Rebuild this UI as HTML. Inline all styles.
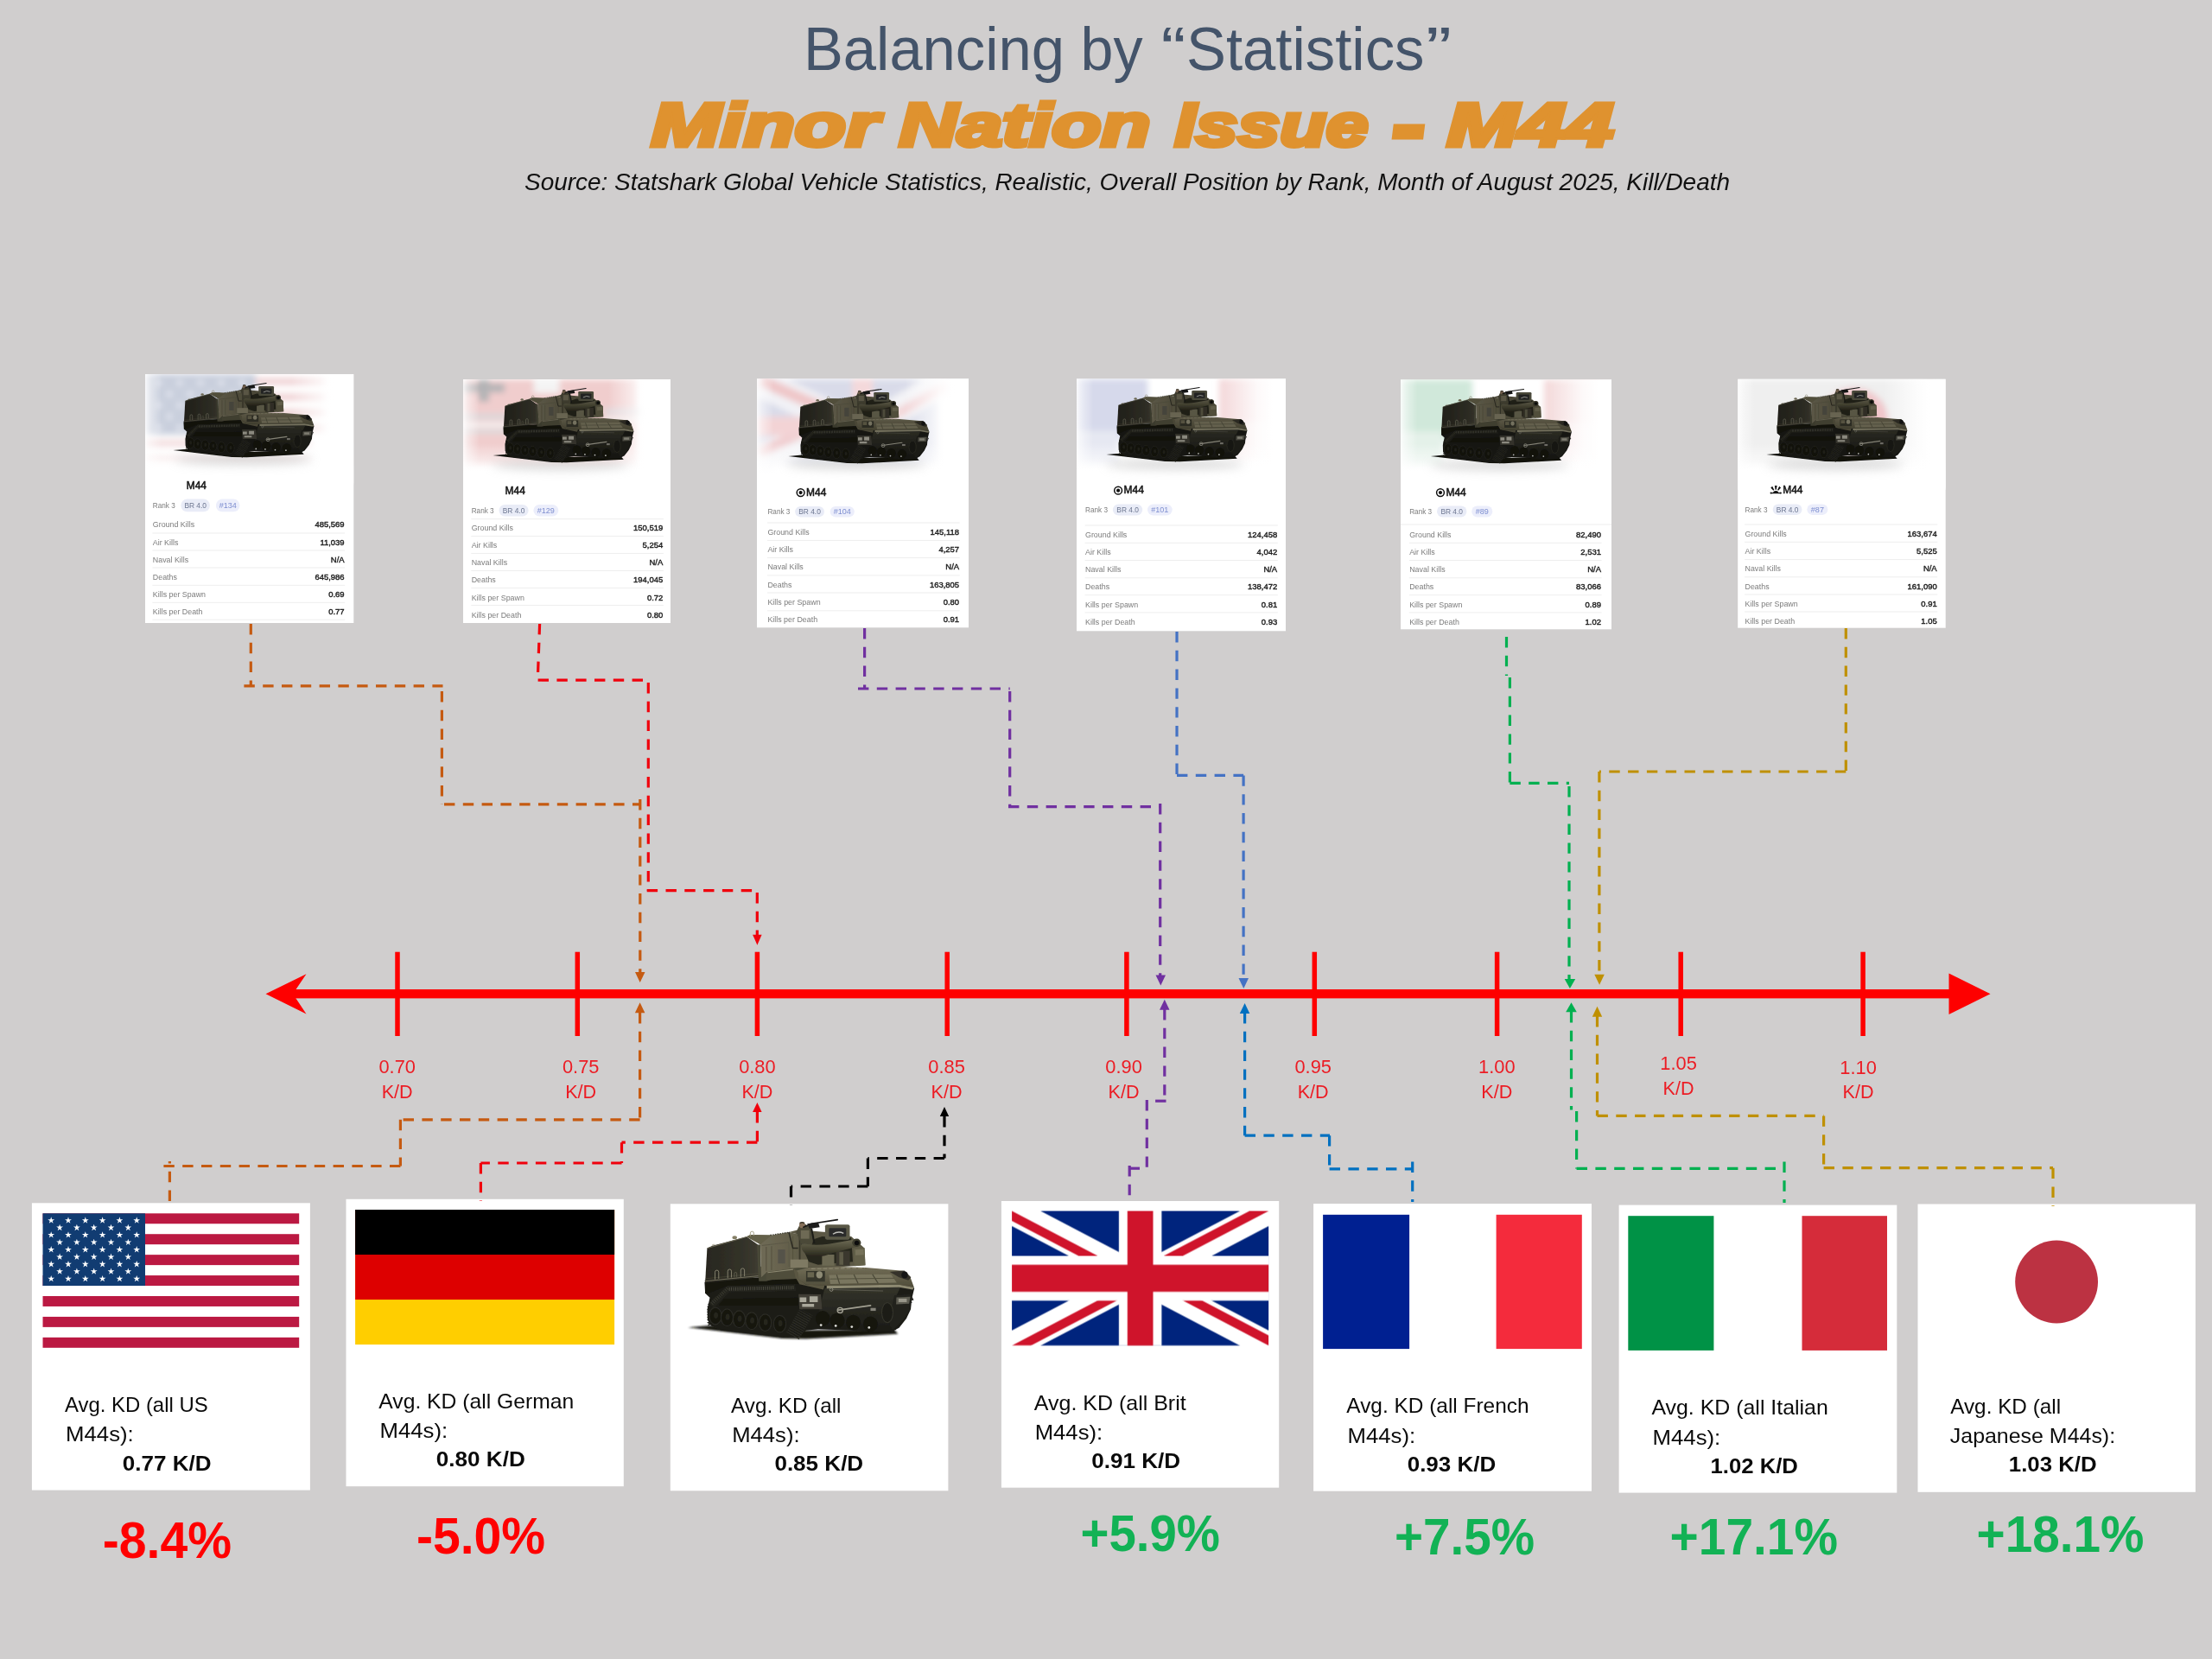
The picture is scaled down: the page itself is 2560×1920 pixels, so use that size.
<!DOCTYPE html>
<html lang="en"><head><meta charset="utf-8"><title>Balancing by Statistics - M44</title>
<style>
html,body{margin:0;padding:0;background:#d0cece;}
body{width:2560px;height:1920px;overflow:hidden;}
svg{display:block;}
text{font-family:'Liberation Sans',sans-serif;}
svg{will-change:transform;}
</style></head><body>
<svg width="2560" height="1920" viewBox="0 0 2560 1920">

<rect width="2560" height="1920" fill="#d0cece"/>
<defs>
<filter id="b1" x="-10%" y="-30%" width="120%" height="160%"><feGaussianBlur stdDeviation="7"/></filter>
<filter id="b3" x="-5%" y="-5%" width="110%" height="110%"><feGaussianBlur stdDeviation="2.6"/></filter>
<filter id="bf" x="-30%" y="-30%" width="160%" height="160%"><feGaussianBlur stdDeviation="7"/></filter>
<filter id="bf2" x="-10%" y="-10%" width="120%" height="120%"><feGaussianBlur stdDeviation="3.5"/></filter>
<filter id="dk" x="0" y="0" width="100%" height="100%" color-interpolation-filters="sRGB"><feComponentTransfer><feFuncR type="linear" slope="0.82"/><feFuncG type="linear" slope="0.82"/><feFuncB type="linear" slope="0.82"/></feComponentTransfer></filter>
<linearGradient id="vgR" x1="0" y1="0" x2="1" y2="0"><stop offset="0" stop-color="#fff" stop-opacity="0"/><stop offset="0.55" stop-color="#fff" stop-opacity="0.85"/><stop offset="0.8" stop-color="#fff" stop-opacity="1"/></linearGradient>
<linearGradient id="vgB" x1="0" y1="0" x2="0" y2="1"><stop offset="0" stop-color="#fff" stop-opacity="0"/><stop offset="0.6" stop-color="#fff" stop-opacity="0.9"/><stop offset="0.8" stop-color="#fff" stop-opacity="1"/></linearGradient>
<linearGradient id="vgL" x1="0" y1="0" x2="1" y2="0"><stop offset="0" stop-color="#fff" stop-opacity="0.7"/><stop offset="1" stop-color="#fff" stop-opacity="0"/></linearGradient>
<filter id="bh" x="-30%" y="-400%" width="160%" height="900%"><feGaussianBlur stdDeviation="6"/></filter>
<filter id="bg" x="-30%" y="-30%" width="160%" height="160%"><feGaussianBlur stdDeviation="11"/></filter>
<linearGradient id="gSide" x1="0" y1="0" x2="1" y2="0"><stop offset="0" stop-color="#28271f"/><stop offset="0.7" stop-color="#333229"/><stop offset="1" stop-color="#3e3c31"/></linearGradient>
<linearGradient id="gFront" x1="0" y1="0" x2="1" y2="0"><stop offset="0" stop-color="#746f5a"/><stop offset="1" stop-color="#605c48"/></linearGradient>
<linearGradient id="gDeck" x1="0" y1="0" x2="0" y2="1"><stop offset="0" stop-color="#726d57"/><stop offset="1" stop-color="#4f4c39"/></linearGradient>
<linearGradient id="gBarrel" x1="0" y1="0" x2="0" y2="1"><stop offset="0" stop-color="#6f6c56"/><stop offset="0.55" stop-color="#4a4835"/><stop offset="1" stop-color="#26251c"/></linearGradient>
<linearGradient id="gLow" x1="0" y1="0" x2="0" y2="1"><stop offset="0" stop-color="#33332a"/><stop offset="1" stop-color="#1c1c17"/></linearGradient>
<g id="tank">
<path d="M170 1016 L335 1002 L900 1040 L1720 1030 L1752 1066 L1060 1103 L880 1100 Z" fill="#131311" filter="url(#b1)"/>
<g filter="url(#b3)">
<path d="M296 676 L1000 640 L1215 690 L1850 690 L1875 722 L1856 800 L1848 880 L1815 950 L1760 1020 L1700 1050 L1560 1050 L1400 1040 L1150 1030 L1060 1040 L1015 1082 L880 1090 L420 1040 L345 1006 L318 960 L316 880 L335 792 L300 760 Z" fill="#1d1d18"/>
<path d="M322 840 L340 850 L322 860 L340 870 L322 880 L340 890 L322 900 L340 910 L322 920 L340 930 L322 940 L340 950 L322 960 L340 970 L322 980 L340 990 L322 1000" fill="none" stroke="#1d1d18" stroke-width="9" stroke-linejoin="miter"/>
<path d="M1856 790 L1864 808 L1844 810 L1852 828 L1832 830 L1840 849 L1820 850 L1828 869 L1808 871 L1816 889 L1796 891 L1804 909 L1784 911 L1792 929 L1772 931 L1780 949 L1760 951 L1768 969 L1748 971 L1756 990 L1736 992 L1744 1010 L1724 1012 L1732 1030 L1712 1032 L1720 1050 L1700 1052" fill="none" stroke="#1d1d18" stroke-width="9"/>
<path d="M960 1080 L1062 900" fill="none" stroke="#2e2e27" stroke-width="110" stroke-dasharray="7 10"/>
<path d="M1200 722 L1770 712 L1730 800 L1700 1000 L1560 1040 L1400 1030 L1150 998 L1165 860 Z" fill="url(#gLow)"/>
<path d="M1725 775 L1850 770 L1840 880 L1790 960 L1715 1035 L1690 1000 L1700 880 Z" fill="#24241e"/>
<path d="M1740 790 L1845 785 L1835 838 L1738 842 Z" fill="#5d5c51"/>
<path d="M1756 800 h62 v26 h-62 z" fill="#9a988b"/>
<ellipse cx="1672" cy="905" rx="42" ry="75" fill="#1a1a15" stroke="#34342b" stroke-width="8"/>
<ellipse cx="377" cy="930" rx="46" ry="64" fill="#13130f" stroke="#2b2b24" stroke-width="8"/>
<ellipse cx="381" cy="926" rx="16" ry="24" fill="#25251e"/>
<ellipse cx="465" cy="942" rx="46" ry="64" fill="#13130f" stroke="#2b2b24" stroke-width="8"/>
<ellipse cx="469" cy="938" rx="16" ry="24" fill="#25251e"/>
<ellipse cx="556" cy="955" rx="46" ry="64" fill="#13130f" stroke="#2b2b24" stroke-width="8"/>
<ellipse cx="560" cy="951" rx="16" ry="24" fill="#25251e"/>
<ellipse cx="650" cy="968" rx="46" ry="64" fill="#13130f" stroke="#2b2b24" stroke-width="8"/>
<ellipse cx="654" cy="964" rx="16" ry="24" fill="#25251e"/>
<ellipse cx="752" cy="980" rx="46" ry="64" fill="#13130f" stroke="#2b2b24" stroke-width="8"/>
<ellipse cx="756" cy="976" rx="16" ry="24" fill="#25251e"/>
<ellipse cx="862" cy="990" rx="46" ry="64" fill="#13130f" stroke="#2b2b24" stroke-width="8"/>
<ellipse cx="866" cy="986" rx="16" ry="24" fill="#25251e"/>
<ellipse cx="1185" cy="950" rx="55" ry="58" fill="#141410"/>
<ellipse cx="1295" cy="965" rx="55" ry="58" fill="#141410"/>
<ellipse cx="1415" cy="980" rx="55" ry="58" fill="#141410"/>
<ellipse cx="1545" cy="992" rx="55" ry="58" fill="#141410"/>
<path d="M440 800 L1000 790 L1000 850 L400 850 Z" fill="#16160f"/>
<path d="M330 830 L470 702 L975 690 L985 742 L480 752 L362 870 Z" fill="#24241d"/>
<path d="M480 728 L975 716" fill="none" stroke="#55544a" stroke-width="26" stroke-dasharray="5 11"/>
<path d="M350 838 L470 722" fill="none" stroke="#3c3c33" stroke-width="26" stroke-dasharray="5 11"/>
<path d="M298 660 L1000 625 L1005 690 L470 702 L330 760 L300 760 Z" fill="#14140f"/>
<path d="M700 560 L1012 540 L1320 548 L1320 610 L975 612 L760 668 L704 668 Z" fill="#4a4838"/>
<path d="M315 420 L355 402 L612 334 L700 395 L704 640 L300 682 Z" fill="url(#gSide)"/>
<path d="M300 668 L704 628" fill="none" stroke="#767360" stroke-width="6"/>
<path d="M300 650 L704 610" fill="none" stroke="#55533f" stroke-width="3"/>
<path d="M374 655 V600 q0 -14 14 -14 q14 0 14 14 V650" fill="none" stroke="#8a8772" stroke-width="6"/>
<path d="M470 646 V593 q0 -14 14 -14 q14 0 14 14 V641" fill="none" stroke="#8a8772" stroke-width="6"/>
<path d="M568 637 V586 q0 -14 14 -14 q14 0 14 14 V632" fill="none" stroke="#8a8772" stroke-width="6"/>
<path d="M520 640 v-30 q0 -8 9 -8 q9 0 9 8 v28" fill="none" stroke="#6a6854" stroke-width="5"/>
<path d="M315 421 L612 335" fill="none" stroke="#6a6752" stroke-width="6"/>
<path d="M690 396 L716 392 L722 640 L700 642 Z" fill="#4a4838"/>
<path d="M716 392 L612 334 L640 318 L800 322 L935 300 L1012 318 L1012 562 L960 574 L765 600 L722 640 Z" fill="url(#gFront)"/>
<path d="M612 334 L640 318 L800 322 L716 392 Z" fill="#646049"/>
<path d="M726 400 L930 376 L932 560" fill="none" stroke="#5a5745" stroke-width="6"/>
<path d="M848 430 h54 v105 h-54 z" fill="#55524a"/>
<path d="M760 410 V590 M800 405 V585 M960 330 V560" fill="none" stroke="#55523f" stroke-width="7"/>
<path d="M760 600 L965 572 L1000 600 L1005 650 L760 660 Z" fill="#504d3b"/>
<path d="M770 604 L962 580" fill="none" stroke="#8b8770" stroke-width="7"/>
<path d="M640 330 v-24 q0 -12 13 -12 q13 0 13 12 v20" fill="none" stroke="#a39e86" stroke-width="6"/>
<path d="M352 404 q0 -14 14 -12 q10 2 10 8" fill="none" stroke="#a39e86" stroke-width="5"/>
<ellipse cx="522" cy="340" rx="18" ry="13" fill="#857f66"/>
<path d="M790 322 L935 300" fill="none" stroke="#3f3e31" stroke-width="9" stroke-dasharray="10 8"/>
<path d="M930 300 L1000 282 L1210 300 L1400 332 L1500 420 L1506 548 L1300 562 L1012 562 L1012 318 Z" fill="#5c5945"/>
<path d="M1012 318 L1012 562" fill="none" stroke="#38372b" stroke-width="12"/>
<path d="M942 505 h132 v62 h-132 z" fill="#7f7a64"/>
<path d="M1020 385 L1180 332 L1400 342 L1412 522 L1150 545 L1080 522 Z" fill="#26261d"/>
<path d="M1418 424 L1500 418 L1506 548 L1424 554 Z" fill="#636049"/>
<path d="M1430 432 L1492 428 L1496 470 L1432 474 Z" fill="#76725a"/>
<path d="M1285 440 h105 v112 h-105 z" fill="#3a392d"/>
<path d="M1310 450 h30 v95 h-30 z" fill="#5f5c48"/>
<path d="M1180 468 h92 v84 h-92 z" fill="#6c6953"/>
<rect x="1203" y="242" width="186" height="114" rx="14" fill="#5a5947"/>
<rect x="1232" y="268" width="130" height="66" rx="8" fill="#2b2c2a"/>
<path d="M1262 314 q40 -26 80 -6" fill="none" stroke="#c3c3be" stroke-width="9"/>
<path d="M985 300 L1008 252 L1050 238 L1092 262 L1122 330 L1102 402 L1030 402 Z" fill="#4b4939"/>
<rect x="1020" y="285" width="64" height="64" fill="#6e6a54"/>
<ellipse cx="1030" cy="247" rx="22" ry="22" fill="#86705a"/>
<path d="M1012 232 q18 -12 36 0" fill="none" stroke="#3a3428" stroke-width="10"/>
<path d="M1040 262 L1100 236 L1296 206" fill="none" stroke="#191917" stroke-width="11" stroke-linecap="round"/>
<path d="M1068 236 L1152 226 L1162 262 L1086 274 Z" fill="#1f1f1d"/>
<path d="M1100 270 L1122 384" fill="none" stroke="#1d1d19" stroke-width="13"/>
<path d="M930 300 L960 420 L1000 420" fill="none" stroke="#2c2b22" stroke-width="10"/>
<path d="M1022 405 Q1028 458 1090 480 Q1180 494 1262 456 L1464 404 L1452 350 L1230 388 Q1130 402 1060 388 Q1018 384 1022 405 Z" fill="url(#gBarrel)"/>
<ellipse cx="1440" cy="379" rx="33" ry="31" fill="#3d3c2e"/>
<ellipse cx="1442" cy="380" rx="18" ry="18" fill="#0f0f0c"/>
<path d="M975 592 L1080 566 L1300 560 L1510 566 L1790 590 L1845 640 L1873 716 L1760 694 L1215 702 L1060 694 L1000 654 Z" fill="url(#gDeck)"/>
<path d="M1232 622 L1700 616 L1742 680 L1242 690 Z" fill="#7a765f"/>
<path d="M1290 620 L1312 688 M1420 618 L1452 686 M1560 617 L1602 684" stroke="#4c4a39" stroke-width="8" fill="none"/>
<path d="M1240 652 L1725 646" stroke="#504e3c" stroke-width="6" fill="none"/>
<path d="M1100 575 L1500 570" stroke="#8c8870" stroke-width="7" fill="none" stroke-dasharray="30 14"/>
<path d="M965 572 L1000 600 L1005 654 L1060 694 L1200 700 L1190 732 L1010 692 L980 640 Z" fill="#5a5742"/>
<path d="M1060 592 h142 v80 h-142 z" fill="#35342a"/>
<ellipse cx="1160" cy="620" rx="24" ry="27" fill="#8e8b74"/>
<path d="M1070 600 h50 v40 h-50 z" fill="#68654f"/>
<path d="M1690 598 L1800 588 L1850 640 L1830 662 L1760 640 Z" fill="#34332a"/>
<ellipse cx="1802" cy="622" rx="24" ry="26" fill="#191915"/>
<path d="M1215 702 L1760 694 L1873 716 L1862 732 L1760 714 L1215 724 Z" fill="#8e8a72"/>
<path d="M1003 766 L1172 768 L1180 880 L1010 880 Z" fill="#3f3e35"/>
<path d="M1012 790 h50 v36 h-50 z M1086 782 h62 v44 h-62 z M1030 840 h90 v22 h-90 z" fill="#aaa89b"/>
<path d="M1305 886 L1545 852" fill="none" stroke="#a19f91" stroke-width="12" stroke-linecap="round"/>
<circle cx="1316" cy="888" r="20" fill="none" stroke="#a19f91" stroke-width="9"/>
<path d="M1250 732 L1640 742" fill="none" stroke="#5f5e51" stroke-width="6"/>
<circle cx="1250" cy="732" r="12" fill="none" stroke="#8f8d7e" stroke-width="6"/>
<path d="M1545 870 h40 v22 h-40 z" fill="#85837a"/>
<circle cx="1172" cy="999" r="9" fill="#deded8"/>
<circle cx="1283" cy="1005" r="9" fill="#deded8"/>
<circle cx="1404" cy="1012" r="9" fill="#deded8"/>
<circle cx="1534" cy="1018" r="9" fill="#deded8"/>
</g>
</g>
</defs>
<g id="header">
<text x="930.0" y="81.4" font-size="70" fill="#44546a" textLength="302.0" lengthAdjust="spacingAndGlyphs">Balancing</text>
<text x="1250.5" y="81.4" font-size="70" fill="#44546a" textLength="72.0" lengthAdjust="spacingAndGlyphs">by</text>
<text x="1343.5" y="81.4" font-size="70" fill="#44546a" textLength="29.0" lengthAdjust="spacingAndGlyphs">“</text>
<text x="1373.0" y="81.4" font-size="70" fill="#44546a" textLength="275.5" lengthAdjust="spacingAndGlyphs">Statistics</text>
<text x="1650.0" y="81.4" font-size="70" fill="#44546a" textLength="30.0" lengthAdjust="spacingAndGlyphs">”</text>
<text x="753.5" y="169.0" font-size="69.5" fill="#df922f" font-weight="bold" font-style="italic" textLength="263.0" lengthAdjust="spacingAndGlyphs" stroke="#df922f" stroke-width="5" stroke-linejoin="miter" stroke-miterlimit="3" paint-order="stroke">Minor</text>
<text x="1040.5" y="169.0" font-size="69.5" fill="#df922f" font-weight="bold" font-style="italic" textLength="291.0" lengthAdjust="spacingAndGlyphs" stroke="#df922f" stroke-width="5" stroke-linejoin="miter" stroke-miterlimit="3" paint-order="stroke">Nation</text>
<text x="1359.5" y="169.0" font-size="69.5" fill="#df922f" font-weight="bold" font-style="italic" textLength="224.0" lengthAdjust="spacingAndGlyphs" stroke="#df922f" stroke-width="5" stroke-linejoin="miter" stroke-miterlimit="3" paint-order="stroke">Issue</text>
<text x="1614.5" y="171.4" font-size="69.5" fill="#df922f" font-weight="bold" font-style="italic" textLength="31.0" lengthAdjust="spacingAndGlyphs" stroke="#df922f" stroke-width="11" stroke-linejoin="miter" stroke-miterlimit="3" paint-order="stroke">–</text>
<text x="1674.5" y="169.0" font-size="69.5" fill="#df922f" font-weight="bold" font-style="italic" textLength="193.0" lengthAdjust="spacingAndGlyphs" stroke="#df922f" stroke-width="5" stroke-linejoin="miter" stroke-miterlimit="3" paint-order="stroke">M44</text>
<text x="607.0" y="220.0" font-size="28.5" fill="#111" font-style="italic" textLength="1395.0" lengthAdjust="spacingAndGlyphs">Source: Statshark Global Vehicle Statistics, Realistic, Overall Position by Rank, Month of August 2025, Kill/Death</text>
</g>
<g id="statcards">
<g>
<rect x="168" y="433" width="241.3" height="288" fill="#fff"/>
<clipPath id="ccus"><rect x="168" y="433" width="241.3" height="288"/></clipPath>
<g clip-path="url(#ccus)">
<g filter="url(#bf2)">
<rect x="168.0" y="433.0" width="127.9" height="70.0" fill="#c9cfdd" />
<rect x="295.9" y="437.0" width="82.0" height="9.0" fill="#f1d6d8" />
<rect x="295.9" y="455.0" width="82.0" height="9.0" fill="#f1d6d8" />
<rect x="295.9" y="473.0" width="82.0" height="9.0" fill="#f1d6d8" />
<rect x="295.9" y="491.0" width="82.0" height="9.0" fill="#f1d6d8" />
<rect x="168.0" y="509.0" width="193.0" height="9.0" fill="#f3dcdd" />
<rect x="168.0" y="527.0" width="193.0" height="9.0" fill="#f3dcdd" />
<path d="M184.00,438.00 L185.12,441.45 L188.76,441.45 L185.82,443.59 L186.94,447.05 L184.00,444.91 L181.06,447.05 L182.18,443.59 L179.24,441.45 L182.88,441.45ZM208.00,438.00 L209.12,441.45 L212.76,441.45 L209.82,443.59 L210.94,447.05 L208.00,444.91 L205.06,447.05 L206.18,443.59 L203.24,441.45 L206.88,441.45ZM232.00,438.00 L233.12,441.45 L236.76,441.45 L233.82,443.59 L234.94,447.05 L232.00,444.91 L229.06,447.05 L230.18,443.59 L227.24,441.45 L230.88,441.45ZM256.00,438.00 L257.12,441.45 L260.76,441.45 L257.82,443.59 L258.94,447.05 L256.00,444.91 L253.06,447.05 L254.18,443.59 L251.24,441.45 L254.88,441.45ZM280.00,438.00 L281.12,441.45 L284.76,441.45 L281.82,443.59 L282.94,447.05 L280.00,444.91 L277.06,447.05 L278.18,443.59 L275.24,441.45 L278.88,441.45ZM196.00,451.00 L197.12,454.45 L200.76,454.45 L197.82,456.59 L198.94,460.05 L196.00,457.91 L193.06,460.05 L194.18,456.59 L191.24,454.45 L194.88,454.45ZM220.00,451.00 L221.12,454.45 L224.76,454.45 L221.82,456.59 L222.94,460.05 L220.00,457.91 L217.06,460.05 L218.18,456.59 L215.24,454.45 L218.88,454.45ZM244.00,451.00 L245.12,454.45 L248.76,454.45 L245.82,456.59 L246.94,460.05 L244.00,457.91 L241.06,460.05 L242.18,456.59 L239.24,454.45 L242.88,454.45ZM268.00,451.00 L269.12,454.45 L272.76,454.45 L269.82,456.59 L270.94,460.05 L268.00,457.91 L265.06,460.05 L266.18,456.59 L263.24,454.45 L266.88,454.45ZM292.00,451.00 L293.12,454.45 L296.76,454.45 L293.82,456.59 L294.94,460.05 L292.00,457.91 L289.06,460.05 L290.18,456.59 L287.24,454.45 L290.88,454.45ZM184.00,464.00 L185.12,467.45 L188.76,467.45 L185.82,469.59 L186.94,473.05 L184.00,470.91 L181.06,473.05 L182.18,469.59 L179.24,467.45 L182.88,467.45ZM208.00,464.00 L209.12,467.45 L212.76,467.45 L209.82,469.59 L210.94,473.05 L208.00,470.91 L205.06,473.05 L206.18,469.59 L203.24,467.45 L206.88,467.45ZM232.00,464.00 L233.12,467.45 L236.76,467.45 L233.82,469.59 L234.94,473.05 L232.00,470.91 L229.06,473.05 L230.18,469.59 L227.24,467.45 L230.88,467.45ZM256.00,464.00 L257.12,467.45 L260.76,467.45 L257.82,469.59 L258.94,473.05 L256.00,470.91 L253.06,473.05 L254.18,469.59 L251.24,467.45 L254.88,467.45ZM280.00,464.00 L281.12,467.45 L284.76,467.45 L281.82,469.59 L282.94,473.05 L280.00,470.91 L277.06,473.05 L278.18,469.59 L275.24,467.45 L278.88,467.45ZM196.00,477.00 L197.12,480.45 L200.76,480.45 L197.82,482.59 L198.94,486.05 L196.00,483.91 L193.06,486.05 L194.18,482.59 L191.24,480.45 L194.88,480.45ZM220.00,477.00 L221.12,480.45 L224.76,480.45 L221.82,482.59 L222.94,486.05 L220.00,483.91 L217.06,486.05 L218.18,482.59 L215.24,480.45 L218.88,480.45ZM244.00,477.00 L245.12,480.45 L248.76,480.45 L245.82,482.59 L246.94,486.05 L244.00,483.91 L241.06,486.05 L242.18,482.59 L239.24,480.45 L242.88,480.45ZM268.00,477.00 L269.12,480.45 L272.76,480.45 L269.82,482.59 L270.94,486.05 L268.00,483.91 L265.06,486.05 L266.18,482.59 L263.24,480.45 L266.88,480.45ZM292.00,477.00 L293.12,480.45 L296.76,480.45 L293.82,482.59 L294.94,486.05 L292.00,483.91 L289.06,486.05 L290.18,482.59 L287.24,480.45 L290.88,480.45ZM184.00,490.00 L185.12,493.45 L188.76,493.45 L185.82,495.59 L186.94,499.05 L184.00,496.91 L181.06,499.05 L182.18,495.59 L179.24,493.45 L182.88,493.45ZM208.00,490.00 L209.12,493.45 L212.76,493.45 L209.82,495.59 L210.94,499.05 L208.00,496.91 L205.06,499.05 L206.18,495.59 L203.24,493.45 L206.88,493.45ZM232.00,490.00 L233.12,493.45 L236.76,493.45 L233.82,495.59 L234.94,499.05 L232.00,496.91 L229.06,499.05 L230.18,495.59 L227.24,493.45 L230.88,493.45ZM256.00,490.00 L257.12,493.45 L260.76,493.45 L257.82,495.59 L258.94,499.05 L256.00,496.91 L253.06,499.05 L254.18,495.59 L251.24,493.45 L254.88,493.45ZM280.00,490.00 L281.12,493.45 L284.76,493.45 L281.82,495.59 L282.94,499.05 L280.00,496.91 L277.06,499.05 L278.18,495.59 L275.24,493.45 L278.88,493.45Z" fill="#eef0f6"/>
</g>
<rect x="336.9" y="433" width="72.4" height="126.0" fill="url(#vgR)"/>
<rect x="168" y="507" width="241.3" height="54.0" fill="url(#vgB)"/>
<rect x="168" y="433" width="19.3" height="118.0" fill="url(#vgL)"/>
<ellipse cx="281.4" cy="532" rx="79.6" ry="6" fill="#b5b5b5" opacity="0.5" filter="url(#bh)"/>
</g>
<use href="#tank" transform="translate(184.25,423.88) scale(0.0956)" filter="url(#dk)"/>
<text x="215.8" y="566.0" font-size="12.0" fill="#151515" textLength="23.2" lengthAdjust="spacingAndGlyphs" stroke="#151515" stroke-width="0.55">M44</text>
<text x="176.8" y="588.4" font-size="9.7" fill="#7b7b7b" textLength="26.0" lengthAdjust="spacingAndGlyphs">Rank 3</text>
<rect x="209.4" y="577.6" width="33.5" height="14.7" rx="7.3" fill="#e9ecf7"/>
<rect x="249.9" y="577.6" width="27.6" height="14.7" rx="7.3" fill="#eceefb"/>
<text x="226.2" y="588.4" font-size="9.7" fill="#6c7690" text-anchor="middle" textLength="25.6" lengthAdjust="spacingAndGlyphs">BR 4.0</text>
<text x="263.7" y="588.4" font-size="9.7" fill="#7f8fd0" text-anchor="middle" textLength="20.1" lengthAdjust="spacingAndGlyphs">#134</text>
<text x="176.8" y="609.9" font-size="9.7" fill="#7b7b7b" textLength="48.3" lengthAdjust="spacingAndGlyphs">Ground Kills</text>
<text x="398.6" y="609.9" font-size="9.7" fill="#1e1e1e" text-anchor="end" textLength="34.2" lengthAdjust="spacingAndGlyphs" stroke="#1e1e1e" stroke-width="0.42">485,569</text>
<text x="176.8" y="630.5" font-size="9.7" fill="#7b7b7b" textLength="29.6" lengthAdjust="spacingAndGlyphs">Air Kills</text>
<text x="398.6" y="630.5" font-size="9.7" fill="#1e1e1e" text-anchor="end" textLength="28.2" lengthAdjust="spacingAndGlyphs" stroke="#1e1e1e" stroke-width="0.42">11,039</text>
<text x="176.8" y="650.5" font-size="9.7" fill="#7b7b7b" textLength="41.4" lengthAdjust="spacingAndGlyphs">Naval Kills</text>
<text x="398.6" y="650.5" font-size="9.7" fill="#1e1e1e" text-anchor="end" textLength="15.8" lengthAdjust="spacingAndGlyphs" stroke="#1e1e1e" stroke-width="0.42">N/A</text>
<text x="176.8" y="670.8" font-size="9.7" fill="#7b7b7b" textLength="28.1" lengthAdjust="spacingAndGlyphs">Deaths</text>
<text x="398.6" y="670.8" font-size="9.7" fill="#1e1e1e" text-anchor="end" textLength="34.2" lengthAdjust="spacingAndGlyphs" stroke="#1e1e1e" stroke-width="0.42">645,986</text>
<text x="176.8" y="690.8" font-size="9.7" fill="#7b7b7b" textLength="61.2" lengthAdjust="spacingAndGlyphs">Kills per Spawn</text>
<text x="398.6" y="690.8" font-size="9.7" fill="#1e1e1e" text-anchor="end" textLength="18.4" lengthAdjust="spacingAndGlyphs" stroke="#1e1e1e" stroke-width="0.42">0.69</text>
<text x="176.8" y="711.0" font-size="9.7" fill="#7b7b7b" textLength="57.7" lengthAdjust="spacingAndGlyphs">Kills per Death</text>
<text x="398.6" y="711.0" font-size="9.7" fill="#1e1e1e" text-anchor="end" textLength="18.4" lengthAdjust="spacingAndGlyphs" stroke="#1e1e1e" stroke-width="0.42">0.77</text>
<rect x="176.4" y="616.5" width="222.8" height="1" fill="#eeeeee"/>
<rect x="176.4" y="636.5" width="222.8" height="1" fill="#eeeeee"/>
<rect x="176.4" y="656.5" width="222.8" height="1" fill="#eeeeee"/>
<rect x="176.4" y="676.8" width="222.8" height="1" fill="#eeeeee"/>
<rect x="176.4" y="696.8" width="222.8" height="1" fill="#eeeeee"/>
<rect x="176.4" y="716.7" width="222.8" height="1" fill="#eeeeee"/>
</g>
<g>
<rect x="536" y="439" width="240" height="282" fill="#fff"/>
<clipPath id="ccde"><rect x="536" y="439" width="240" height="282"/></clipPath>
<g clip-path="url(#ccde)">
<g filter="url(#bf2)">
<rect x="536.0" y="439.0" width="201.6" height="100.0" fill="#f0cdcd" />
<rect x="536.0" y="444.0" width="48.0" height="10.0" fill="#b4b4b6" />
<rect x="554.0" y="439.0" width="12.0" height="26.0" fill="#b4b4b6" />
<rect x="617.6" y="439.0" width="30.0" height="16.0" fill="#f4f4f4" />
<rect x="536.0" y="479.0" width="60.0" height="6.0" fill="#d9d9dc" />
<rect x="536.0" y="489.0" width="60.0" height="5.0" fill="#f5f5f5" />
<rect x="536.0" y="497.0" width="60.0" height="5.0" fill="#dcdcde" />
<rect x="699.2" y="473.0" width="43.2" height="6.0" fill="#dddde0" />
<rect x="699.2" y="483.0" width="43.2" height="5.0" fill="#f3f3f3" />
</g>
<rect x="704.0" y="439" width="72.0" height="126.0" fill="url(#vgR)"/>
<rect x="536" y="513" width="240" height="54.0" fill="url(#vgB)"/>
<rect x="536" y="439" width="19.2" height="118.0" fill="url(#vgL)"/>
<ellipse cx="648.8" cy="538" rx="79.2" ry="6" fill="#b5b5b5" opacity="0.5" filter="url(#bh)"/>
</g>
<use href="#tank" transform="translate(554.25,429.88) scale(0.0956)" filter="url(#dk)"/>
<text x="584.6" y="572.2" font-size="12.0" fill="#151515" textLength="23.2" lengthAdjust="spacingAndGlyphs" stroke="#151515" stroke-width="0.55">M44</text>
<text x="545.7" y="594.1" font-size="9.7" fill="#7b7b7b" textLength="26.0" lengthAdjust="spacingAndGlyphs">Rank 3</text>
<rect x="577.5" y="583.9" width="34.1" height="13.5" rx="6.8" fill="#e9ecf7"/>
<rect x="617.4" y="583.9" width="28.9" height="13.5" rx="6.8" fill="#eceefb"/>
<text x="594.5" y="594.1" font-size="9.7" fill="#6c7690" text-anchor="middle" textLength="25.6" lengthAdjust="spacingAndGlyphs">BR 4.0</text>
<text x="631.8" y="594.1" font-size="9.7" fill="#7f8fd0" text-anchor="middle" textLength="20.1" lengthAdjust="spacingAndGlyphs">#129</text>
<text x="545.7" y="613.5" font-size="9.7" fill="#7b7b7b" textLength="48.3" lengthAdjust="spacingAndGlyphs">Ground Kills</text>
<text x="767.3" y="613.5" font-size="9.7" fill="#1e1e1e" text-anchor="end" textLength="34.2" lengthAdjust="spacingAndGlyphs" stroke="#1e1e1e" stroke-width="0.42">150,519</text>
<text x="545.7" y="633.7" font-size="9.7" fill="#7b7b7b" textLength="29.6" lengthAdjust="spacingAndGlyphs">Air Kills</text>
<text x="767.3" y="633.7" font-size="9.7" fill="#1e1e1e" text-anchor="end" textLength="23.7" lengthAdjust="spacingAndGlyphs" stroke="#1e1e1e" stroke-width="0.42">5,254</text>
<text x="545.7" y="654.0" font-size="9.7" fill="#7b7b7b" textLength="41.4" lengthAdjust="spacingAndGlyphs">Naval Kills</text>
<text x="767.3" y="654.0" font-size="9.7" fill="#1e1e1e" text-anchor="end" textLength="15.8" lengthAdjust="spacingAndGlyphs" stroke="#1e1e1e" stroke-width="0.42">N/A</text>
<text x="545.7" y="674.2" font-size="9.7" fill="#7b7b7b" textLength="28.1" lengthAdjust="spacingAndGlyphs">Deaths</text>
<text x="767.3" y="674.2" font-size="9.7" fill="#1e1e1e" text-anchor="end" textLength="34.2" lengthAdjust="spacingAndGlyphs" stroke="#1e1e1e" stroke-width="0.42">194,045</text>
<text x="545.7" y="694.5" font-size="9.7" fill="#7b7b7b" textLength="61.2" lengthAdjust="spacingAndGlyphs">Kills per Spawn</text>
<text x="767.3" y="694.5" font-size="9.7" fill="#1e1e1e" text-anchor="end" textLength="18.4" lengthAdjust="spacingAndGlyphs" stroke="#1e1e1e" stroke-width="0.42">0.72</text>
<text x="545.7" y="714.7" font-size="9.7" fill="#7b7b7b" textLength="57.7" lengthAdjust="spacingAndGlyphs">Kills per Death</text>
<text x="767.3" y="714.7" font-size="9.7" fill="#1e1e1e" text-anchor="end" textLength="18.4" lengthAdjust="spacingAndGlyphs" stroke="#1e1e1e" stroke-width="0.42">0.80</text>
<rect x="545.3" y="600.2" width="222.6" height="1" fill="#eeeeee"/>
<rect x="545.3" y="620.1" width="222.6" height="1" fill="#eeeeee"/>
<rect x="545.3" y="639.9" width="222.6" height="1" fill="#eeeeee"/>
<rect x="545.3" y="660.0" width="222.6" height="1" fill="#eeeeee"/>
<rect x="545.3" y="679.9" width="222.6" height="1" fill="#eeeeee"/>
<rect x="545.3" y="700.1" width="222.6" height="1" fill="#eeeeee"/>
</g>
<g>
<rect x="876" y="438.3" width="245" height="288" fill="#fff"/>
<clipPath id="ccuk"><rect x="876" y="438.3" width="245" height="288"/></clipPath>
<g clip-path="url(#ccuk)">
<g filter="url(#bf2)">
<rect x="876.0" y="438.3" width="210.7" height="100.0" fill="#d9dbe9" />
<path d="M876 440.3 L978.9 490.3" stroke="#f2f2f6" stroke-width="34"/>
<path d="M880 440.3 L974.0 482.3" stroke="#efc6c8" stroke-width="13"/>
<path d="M876 534.3 L964.2 490.3" stroke="#f4f4f7" stroke-width="34"/>
<path d="M878 524.3 L949.5 490.3" stroke="#f1cfd1" stroke-width="12"/>
<rect x="876.0" y="482.3" width="73.5" height="22.0" fill="#f3d3d5" />
<path d="M1096.5 440.3 L1010.8 490.3" stroke="#f4f4f7" stroke-width="30"/>
<path d="M1096.5 446.3 L1018.1 490.3" stroke="#f3d6d8" stroke-width="11"/>
<rect x="986.2" y="438.3" width="24.0" height="40.0" fill="#f4d9db" />
</g>
<rect x="1047.5" y="438.3" width="73.5" height="126.0" fill="url(#vgR)"/>
<rect x="876" y="512.3" width="245" height="54.0" fill="url(#vgB)"/>
<rect x="876" y="438.3" width="19.6" height="118.0" fill="url(#vgL)"/>
<ellipse cx="991.1" cy="537.3" rx="80.9" ry="6" fill="#b5b5b5" opacity="0.5" filter="url(#bh)"/>
</g>
<use href="#tank" transform="translate(896.25,430.78) scale(0.0956)" filter="url(#dk)"/>
<circle cx="926.6" cy="570.1" r="4.4" fill="none" stroke="#111" stroke-width="1.5"/><circle cx="926.6" cy="570.1" r="2.1" fill="#111"/>
<text x="933.1" y="573.6" font-size="12.0" fill="#151515" textLength="23.2" lengthAdjust="spacingAndGlyphs" stroke="#151515" stroke-width="0.55">M44</text>
<text x="888.4" y="595.4" font-size="9.7" fill="#7b7b7b" textLength="26.0" lengthAdjust="spacingAndGlyphs">Rank 3</text>
<rect x="920.2" y="585.9" width="33.7" height="12.5" rx="6.2" fill="#e9ecf7"/>
<rect x="960.7" y="585.9" width="28.1" height="12.5" rx="6.2" fill="#eceefb"/>
<text x="937.0" y="595.4" font-size="9.7" fill="#6c7690" text-anchor="middle" textLength="25.6" lengthAdjust="spacingAndGlyphs">BR 4.0</text>
<text x="974.8" y="595.4" font-size="9.7" fill="#7f8fd0" text-anchor="middle" textLength="20.1" lengthAdjust="spacingAndGlyphs">#104</text>
<text x="888.4" y="618.7" font-size="9.7" fill="#7b7b7b" textLength="48.3" lengthAdjust="spacingAndGlyphs">Ground Kills</text>
<text x="1110.1" y="618.7" font-size="9.7" fill="#1e1e1e" text-anchor="end" textLength="33.5" lengthAdjust="spacingAndGlyphs" stroke="#1e1e1e" stroke-width="0.42">145,118</text>
<text x="888.4" y="638.9" font-size="9.7" fill="#7b7b7b" textLength="29.6" lengthAdjust="spacingAndGlyphs">Air Kills</text>
<text x="1110.1" y="638.9" font-size="9.7" fill="#1e1e1e" text-anchor="end" textLength="23.7" lengthAdjust="spacingAndGlyphs" stroke="#1e1e1e" stroke-width="0.42">4,257</text>
<text x="888.4" y="659.2" font-size="9.7" fill="#7b7b7b" textLength="41.4" lengthAdjust="spacingAndGlyphs">Naval Kills</text>
<text x="1110.1" y="659.2" font-size="9.7" fill="#1e1e1e" text-anchor="end" textLength="15.8" lengthAdjust="spacingAndGlyphs" stroke="#1e1e1e" stroke-width="0.42">N/A</text>
<text x="888.4" y="679.5" font-size="9.7" fill="#7b7b7b" textLength="28.1" lengthAdjust="spacingAndGlyphs">Deaths</text>
<text x="1110.1" y="679.5" font-size="9.7" fill="#1e1e1e" text-anchor="end" textLength="34.2" lengthAdjust="spacingAndGlyphs" stroke="#1e1e1e" stroke-width="0.42">163,805</text>
<text x="888.4" y="699.7" font-size="9.7" fill="#7b7b7b" textLength="61.2" lengthAdjust="spacingAndGlyphs">Kills per Spawn</text>
<text x="1110.1" y="699.7" font-size="9.7" fill="#1e1e1e" text-anchor="end" textLength="18.4" lengthAdjust="spacingAndGlyphs" stroke="#1e1e1e" stroke-width="0.42">0.80</text>
<text x="888.4" y="719.9" font-size="9.7" fill="#7b7b7b" textLength="57.7" lengthAdjust="spacingAndGlyphs">Kills per Death</text>
<text x="1110.1" y="719.9" font-size="9.7" fill="#1e1e1e" text-anchor="end" textLength="18.4" lengthAdjust="spacingAndGlyphs" stroke="#1e1e1e" stroke-width="0.42">0.91</text>
<rect x="888.0" y="604.5" width="222.7" height="1" fill="#eeeeee"/>
<rect x="888.0" y="624.9" width="222.7" height="1" fill="#eeeeee"/>
<rect x="888.0" y="645.1" width="222.7" height="1" fill="#eeeeee"/>
<rect x="888.0" y="665.4" width="222.7" height="1" fill="#eeeeee"/>
<rect x="888.0" y="685.5" width="222.7" height="1" fill="#eeeeee"/>
<rect x="888.0" y="706.3" width="222.7" height="1" fill="#eeeeee"/>
</g>
<g>
<rect x="1246" y="438.3" width="242" height="292" fill="#fff"/>
<clipPath id="ccfr"><rect x="1246" y="438.3" width="242" height="292"/></clipPath>
<g clip-path="url(#ccfr)">
<g filter="url(#bf2)">
<rect x="1246.0" y="438.3" width="82.3" height="70.0" fill="#d6d9eb" />
<rect x="1246.0" y="498.3" width="48.4" height="40.0" fill="#e6e8f2" />
<rect x="1410.6" y="438.3" width="62.9" height="60.0" fill="#f4dadc" />
<rect x="1425.1" y="488.3" width="48.4" height="45.0" fill="#f8e8e9" />
</g>
<rect x="1415.4" y="438.3" width="72.6" height="126.0" fill="url(#vgR)"/>
<rect x="1246" y="512.3" width="242" height="54.0" fill="url(#vgB)"/>
<rect x="1246" y="438.3" width="19.4" height="118.0" fill="url(#vgL)"/>
<ellipse cx="1359.7" cy="537.3" rx="79.9" ry="6" fill="#b5b5b5" opacity="0.5" filter="url(#bh)"/>
</g>
<use href="#tank" transform="translate(1264.25,428.88) scale(0.0956)" filter="url(#dk)"/>
<circle cx="1294.1" cy="567.7" r="4.4" fill="none" stroke="#111" stroke-width="1.5"/><circle cx="1294.1" cy="567.7" r="2.1" fill="#111"/>
<text x="1300.6" y="571.2" font-size="12.0" fill="#151515" textLength="23.2" lengthAdjust="spacingAndGlyphs" stroke="#151515" stroke-width="0.55">M44</text>
<text x="1256.0" y="593.1" font-size="9.7" fill="#7b7b7b" textLength="26.0" lengthAdjust="spacingAndGlyphs">Rank 3</text>
<rect x="1287.9" y="583.5" width="34.3" height="13.0" rx="6.5" fill="#e9ecf7"/>
<rect x="1328" y="583.5" width="28.7" height="13.0" rx="6.5" fill="#eceefb"/>
<text x="1305.1" y="593.1" font-size="9.7" fill="#6c7690" text-anchor="middle" textLength="25.6" lengthAdjust="spacingAndGlyphs">BR 4.0</text>
<text x="1342.3" y="593.1" font-size="9.7" fill="#7f8fd0" text-anchor="middle" textLength="20.1" lengthAdjust="spacingAndGlyphs">#101</text>
<text x="1256.0" y="621.5" font-size="9.7" fill="#7b7b7b" textLength="48.3" lengthAdjust="spacingAndGlyphs">Ground Kills</text>
<text x="1478.2" y="621.5" font-size="9.7" fill="#1e1e1e" text-anchor="end" textLength="34.2" lengthAdjust="spacingAndGlyphs" stroke="#1e1e1e" stroke-width="0.42">124,458</text>
<text x="1256.0" y="641.8" font-size="9.7" fill="#7b7b7b" textLength="29.6" lengthAdjust="spacingAndGlyphs">Air Kills</text>
<text x="1478.2" y="641.8" font-size="9.7" fill="#1e1e1e" text-anchor="end" textLength="23.7" lengthAdjust="spacingAndGlyphs" stroke="#1e1e1e" stroke-width="0.42">4,042</text>
<text x="1256.0" y="662.1" font-size="9.7" fill="#7b7b7b" textLength="41.4" lengthAdjust="spacingAndGlyphs">Naval Kills</text>
<text x="1478.2" y="662.1" font-size="9.7" fill="#1e1e1e" text-anchor="end" textLength="15.8" lengthAdjust="spacingAndGlyphs" stroke="#1e1e1e" stroke-width="0.42">N/A</text>
<text x="1256.0" y="682.3" font-size="9.7" fill="#7b7b7b" textLength="28.1" lengthAdjust="spacingAndGlyphs">Deaths</text>
<text x="1478.2" y="682.3" font-size="9.7" fill="#1e1e1e" text-anchor="end" textLength="34.2" lengthAdjust="spacingAndGlyphs" stroke="#1e1e1e" stroke-width="0.42">138,472</text>
<text x="1256.0" y="702.5" font-size="9.7" fill="#7b7b7b" textLength="61.2" lengthAdjust="spacingAndGlyphs">Kills per Spawn</text>
<text x="1478.2" y="702.5" font-size="9.7" fill="#1e1e1e" text-anchor="end" textLength="18.4" lengthAdjust="spacingAndGlyphs" stroke="#1e1e1e" stroke-width="0.42">0.81</text>
<text x="1256.0" y="722.8" font-size="9.7" fill="#7b7b7b" textLength="57.7" lengthAdjust="spacingAndGlyphs">Kills per Death</text>
<text x="1478.2" y="722.8" font-size="9.7" fill="#1e1e1e" text-anchor="end" textLength="18.4" lengthAdjust="spacingAndGlyphs" stroke="#1e1e1e" stroke-width="0.42">0.93</text>
<rect x="1255.6" y="607.5" width="223.2" height="1" fill="#eeeeee"/>
<rect x="1255.6" y="627.8" width="223.2" height="1" fill="#eeeeee"/>
<rect x="1255.6" y="648.0" width="223.2" height="1" fill="#eeeeee"/>
<rect x="1255.6" y="668.3" width="223.2" height="1" fill="#eeeeee"/>
<rect x="1255.6" y="688.2" width="223.2" height="1" fill="#eeeeee"/>
<rect x="1255.6" y="708.4" width="223.2" height="1" fill="#eeeeee"/>
</g>
<g>
<rect x="1621" y="439.3" width="244" height="289" fill="#fff"/>
<clipPath id="ccit"><rect x="1621" y="439.3" width="244" height="289"/></clipPath>
<g clip-path="url(#ccit)">
<g filter="url(#bf2)">
<rect x="1621.0" y="439.3" width="83.0" height="70.0" fill="#d0e8da" />
<rect x="1621.0" y="499.3" width="48.8" height="40.0" fill="#e4f1e9" />
<rect x="1786.9" y="439.3" width="63.4" height="60.0" fill="#f4dbdc" />
<rect x="1801.6" y="489.3" width="48.8" height="45.0" fill="#f8e8e9" />
</g>
<rect x="1791.8" y="439.3" width="73.2" height="126.0" fill="url(#vgR)"/>
<rect x="1621" y="513.3" width="244" height="54.0" fill="url(#vgB)"/>
<rect x="1621" y="439.3" width="19.5" height="118.0" fill="url(#vgL)"/>
<ellipse cx="1735.7" cy="538.3" rx="80.5" ry="6" fill="#b5b5b5" opacity="0.5" filter="url(#bh)"/>
</g>
<use href="#tank" transform="translate(1639.65,430.78) scale(0.0956)" filter="url(#dk)"/>
<circle cx="1667.0" cy="570.1" r="4.4" fill="none" stroke="#111" stroke-width="1.5"/><circle cx="1667.0" cy="570.1" r="2.1" fill="#111"/>
<text x="1673.5" y="573.6" font-size="12.0" fill="#151515" textLength="23.2" lengthAdjust="spacingAndGlyphs" stroke="#151515" stroke-width="0.55">M44</text>
<text x="1631.2" y="595.0" font-size="9.7" fill="#7b7b7b" textLength="26.0" lengthAdjust="spacingAndGlyphs">Rank 3</text>
<rect x="1663" y="585.5" width="34.4" height="12.9" rx="6.4" fill="#e9ecf7"/>
<rect x="1703.2" y="585.5" width="24.1" height="12.9" rx="6.4" fill="#eceefb"/>
<text x="1680.2" y="595.0" font-size="9.7" fill="#6c7690" text-anchor="middle" textLength="25.6" lengthAdjust="spacingAndGlyphs">BR 4.0</text>
<text x="1715.2" y="595.0" font-size="9.7" fill="#7f8fd0" text-anchor="middle" textLength="15.1" lengthAdjust="spacingAndGlyphs">#89</text>
<text x="1631.2" y="621.5" font-size="9.7" fill="#7b7b7b" textLength="48.3" lengthAdjust="spacingAndGlyphs">Ground Kills</text>
<text x="1853.0" y="621.5" font-size="9.7" fill="#1e1e1e" text-anchor="end" textLength="28.9" lengthAdjust="spacingAndGlyphs" stroke="#1e1e1e" stroke-width="0.42">82,490</text>
<text x="1631.2" y="641.8" font-size="9.7" fill="#7b7b7b" textLength="29.6" lengthAdjust="spacingAndGlyphs">Air Kills</text>
<text x="1853.0" y="641.8" font-size="9.7" fill="#1e1e1e" text-anchor="end" textLength="23.7" lengthAdjust="spacingAndGlyphs" stroke="#1e1e1e" stroke-width="0.42">2,531</text>
<text x="1631.2" y="662.1" font-size="9.7" fill="#7b7b7b" textLength="41.4" lengthAdjust="spacingAndGlyphs">Naval Kills</text>
<text x="1853.0" y="662.1" font-size="9.7" fill="#1e1e1e" text-anchor="end" textLength="15.8" lengthAdjust="spacingAndGlyphs" stroke="#1e1e1e" stroke-width="0.42">N/A</text>
<text x="1631.2" y="682.3" font-size="9.7" fill="#7b7b7b" textLength="28.1" lengthAdjust="spacingAndGlyphs">Deaths</text>
<text x="1853.0" y="682.3" font-size="9.7" fill="#1e1e1e" text-anchor="end" textLength="28.9" lengthAdjust="spacingAndGlyphs" stroke="#1e1e1e" stroke-width="0.42">83,066</text>
<text x="1631.2" y="702.5" font-size="9.7" fill="#7b7b7b" textLength="61.2" lengthAdjust="spacingAndGlyphs">Kills per Spawn</text>
<text x="1853.0" y="702.5" font-size="9.7" fill="#1e1e1e" text-anchor="end" textLength="18.4" lengthAdjust="spacingAndGlyphs" stroke="#1e1e1e" stroke-width="0.42">0.89</text>
<text x="1631.2" y="722.8" font-size="9.7" fill="#7b7b7b" textLength="57.7" lengthAdjust="spacingAndGlyphs">Kills per Death</text>
<text x="1853.0" y="722.8" font-size="9.7" fill="#1e1e1e" text-anchor="end" textLength="18.4" lengthAdjust="spacingAndGlyphs" stroke="#1e1e1e" stroke-width="0.42">1.02</text>
<rect x="1621" y="606.5" width="244" height="1" fill="#eeeeee"/>
<rect x="1630.8" y="627.8" width="222.8" height="1" fill="#eeeeee"/>
<rect x="1630.8" y="648.0" width="222.8" height="1" fill="#eeeeee"/>
<rect x="1630.8" y="668.3" width="222.8" height="1" fill="#eeeeee"/>
<rect x="1630.8" y="688.2" width="222.8" height="1" fill="#eeeeee"/>
<rect x="1630.8" y="708.4" width="222.8" height="1" fill="#eeeeee"/>
</g>
<g>
<rect x="2011.2" y="438.7" width="240.5" height="288" fill="#fff"/>
<clipPath id="ccjp"><rect x="2011.2" y="438.7" width="240.5" height="288"/></clipPath>
<g clip-path="url(#ccjp)">
<g filter="url(#bf2)">
<rect x="2011.2" y="438.7" width="216.5" height="100.0" fill="#efefef" />
<circle cx="2145.9" cy="488.7" r="40" fill="#f0c6ca"/>
</g>
<rect x="2179.6" y="438.7" width="72.1" height="126.0" fill="url(#vgR)"/>
<rect x="2011.2" y="512.7" width="240.5" height="54.0" fill="url(#vgB)"/>
<rect x="2011.2" y="438.7" width="19.2" height="118.0" fill="url(#vgL)"/>
<ellipse cx="2124.2" cy="537.7" rx="79.4" ry="6" fill="#b5b5b5" opacity="0.5" filter="url(#bh)"/>
</g>
<use href="#tank" transform="translate(2028.15,428.88) scale(0.0956)" filter="url(#dk)"/>
<path d="M2049.4 570.7 H2061.0" stroke="#111" stroke-width="1.2" stroke-linecap="round" fill="none"/>
<circle cx="2049.6" cy="570.5" r="0.95" fill="#111"/><circle cx="2060.8" cy="570.5" r="0.95" fill="#111"/>
<path d="M2052.0 571.0 a3.2 3.0 0 0 1 6.4 0 z" fill="#111"/>
<path d="M2054.6 566.8 L2053.9 562.1 H2056.6 L2055.8 566.8 Z" fill="#111"/>
<path d="M2052.3 567.7 L2049.3 564.4 L2051.2 562.7 L2053.3 567.0 Z" fill="#111"/>
<path d="M2058.1 567.7 L2061.1 564.4 L2059.2 562.7 L2057.1 567.0 Z" fill="#111"/>
<text x="2063.3" y="571.2" font-size="12.0" fill="#151515" textLength="23.2" lengthAdjust="spacingAndGlyphs" stroke="#151515" stroke-width="0.55">M44</text>
<text x="2019.5" y="593.1" font-size="9.7" fill="#7b7b7b" textLength="26.0" lengthAdjust="spacingAndGlyphs">Rank 3</text>
<rect x="2051.7" y="583.5" width="33.8" height="12.4" rx="6.2" fill="#e9ecf7"/>
<rect x="2091.3" y="583.5" width="24.1" height="12.4" rx="6.2" fill="#eceefb"/>
<text x="2068.6" y="593.1" font-size="9.7" fill="#6c7690" text-anchor="middle" textLength="25.6" lengthAdjust="spacingAndGlyphs">BR 4.0</text>
<text x="2103.4" y="593.1" font-size="9.7" fill="#7f8fd0" text-anchor="middle" textLength="15.1" lengthAdjust="spacingAndGlyphs">#87</text>
<text x="2019.5" y="620.8" font-size="9.7" fill="#7b7b7b" textLength="48.3" lengthAdjust="spacingAndGlyphs">Ground Kills</text>
<text x="2241.7" y="620.8" font-size="9.7" fill="#1e1e1e" text-anchor="end" textLength="34.2" lengthAdjust="spacingAndGlyphs" stroke="#1e1e1e" stroke-width="0.42">163,674</text>
<text x="2019.5" y="641.1" font-size="9.7" fill="#7b7b7b" textLength="29.6" lengthAdjust="spacingAndGlyphs">Air Kills</text>
<text x="2241.7" y="641.1" font-size="9.7" fill="#1e1e1e" text-anchor="end" textLength="23.7" lengthAdjust="spacingAndGlyphs" stroke="#1e1e1e" stroke-width="0.42">5,525</text>
<text x="2019.5" y="661.3" font-size="9.7" fill="#7b7b7b" textLength="41.4" lengthAdjust="spacingAndGlyphs">Naval Kills</text>
<text x="2241.7" y="661.3" font-size="9.7" fill="#1e1e1e" text-anchor="end" textLength="15.8" lengthAdjust="spacingAndGlyphs" stroke="#1e1e1e" stroke-width="0.42">N/A</text>
<text x="2019.5" y="681.5" font-size="9.7" fill="#7b7b7b" textLength="28.1" lengthAdjust="spacingAndGlyphs">Deaths</text>
<text x="2241.7" y="681.5" font-size="9.7" fill="#1e1e1e" text-anchor="end" textLength="34.2" lengthAdjust="spacingAndGlyphs" stroke="#1e1e1e" stroke-width="0.42">161,090</text>
<text x="2019.5" y="701.8" font-size="9.7" fill="#7b7b7b" textLength="61.2" lengthAdjust="spacingAndGlyphs">Kills per Spawn</text>
<text x="2241.7" y="701.8" font-size="9.7" fill="#1e1e1e" text-anchor="end" textLength="18.4" lengthAdjust="spacingAndGlyphs" stroke="#1e1e1e" stroke-width="0.42">0.91</text>
<text x="2019.5" y="722.0" font-size="9.7" fill="#7b7b7b" textLength="57.7" lengthAdjust="spacingAndGlyphs">Kills per Death</text>
<text x="2241.7" y="722.0" font-size="9.7" fill="#1e1e1e" text-anchor="end" textLength="18.4" lengthAdjust="spacingAndGlyphs" stroke="#1e1e1e" stroke-width="0.42">1.05</text>
<rect x="2019.1" y="606.5" width="223.2" height="1" fill="#eeeeee"/>
<rect x="2019.1" y="626.8" width="223.2" height="1" fill="#eeeeee"/>
<rect x="2019.1" y="647.1" width="223.2" height="1" fill="#eeeeee"/>
<rect x="2019.1" y="667.3" width="223.2" height="1" fill="#eeeeee"/>
<rect x="2019.1" y="687.5" width="223.2" height="1" fill="#eeeeee"/>
<rect x="2019.1" y="707.5" width="223.2" height="1" fill="#eeeeee"/>
</g>
</g>
<g id="bottom">
<rect x="36.9" y="1392.3" width="322" height="332.3" fill="#fff"/>
<rect x="49.5" y="1404.3" width="296.7" height="155.5" fill="#fff"/>
<rect x="49.5" y="1404.30" width="296.7" height="11.96" fill="#bb1942"/>
<rect x="49.5" y="1428.22" width="296.7" height="11.96" fill="#bb1942"/>
<rect x="49.5" y="1452.15" width="296.7" height="11.96" fill="#bb1942"/>
<rect x="49.5" y="1476.07" width="296.7" height="11.96" fill="#bb1942"/>
<rect x="49.5" y="1499.99" width="296.7" height="11.96" fill="#bb1942"/>
<rect x="49.5" y="1523.92" width="296.7" height="11.96" fill="#bb1942"/>
<rect x="49.5" y="1547.84" width="296.7" height="11.96" fill="#bb1942"/>
<rect x="49.5" y="1404.3" width="118.5" height="83.73" fill="#113c72"/>
<path d="M59.20,1408.30 L60.12,1411.13 L63.10,1411.13 L60.69,1412.88 L61.61,1415.72 L59.20,1413.97 L56.79,1415.72 L57.71,1412.88 L55.30,1411.13 L58.28,1411.13ZM79.00,1408.30 L79.92,1411.13 L82.90,1411.13 L80.49,1412.88 L81.41,1415.72 L79.00,1413.97 L76.59,1415.72 L77.51,1412.88 L75.10,1411.13 L78.08,1411.13ZM98.80,1408.30 L99.72,1411.13 L102.70,1411.13 L100.29,1412.88 L101.21,1415.72 L98.80,1413.97 L96.39,1415.72 L97.31,1412.88 L94.90,1411.13 L97.88,1411.13ZM118.60,1408.30 L119.52,1411.13 L122.50,1411.13 L120.09,1412.88 L121.01,1415.72 L118.60,1413.97 L116.19,1415.72 L117.11,1412.88 L114.70,1411.13 L117.68,1411.13ZM138.40,1408.30 L139.32,1411.13 L142.30,1411.13 L139.89,1412.88 L140.81,1415.72 L138.40,1413.97 L135.99,1415.72 L136.91,1412.88 L134.50,1411.13 L137.48,1411.13ZM158.20,1408.30 L159.12,1411.13 L162.10,1411.13 L159.69,1412.88 L160.61,1415.72 L158.20,1413.97 L155.79,1415.72 L156.71,1412.88 L154.30,1411.13 L157.28,1411.13ZM69.10,1416.75 L70.02,1419.58 L73.00,1419.58 L70.59,1421.33 L71.51,1424.17 L69.10,1422.42 L66.69,1424.17 L67.61,1421.33 L65.20,1419.58 L68.18,1419.58ZM88.90,1416.75 L89.82,1419.58 L92.80,1419.58 L90.39,1421.33 L91.31,1424.17 L88.90,1422.42 L86.49,1424.17 L87.41,1421.33 L85.00,1419.58 L87.98,1419.58ZM108.70,1416.75 L109.62,1419.58 L112.60,1419.58 L110.19,1421.33 L111.11,1424.17 L108.70,1422.42 L106.29,1424.17 L107.21,1421.33 L104.80,1419.58 L107.78,1419.58ZM128.50,1416.75 L129.42,1419.58 L132.40,1419.58 L129.99,1421.33 L130.91,1424.17 L128.50,1422.42 L126.09,1424.17 L127.01,1421.33 L124.60,1419.58 L127.58,1419.58ZM148.30,1416.75 L149.22,1419.58 L152.20,1419.58 L149.79,1421.33 L150.71,1424.17 L148.30,1422.42 L145.89,1424.17 L146.81,1421.33 L144.40,1419.58 L147.38,1419.58ZM59.20,1425.20 L60.12,1428.03 L63.10,1428.03 L60.69,1429.78 L61.61,1432.62 L59.20,1430.87 L56.79,1432.62 L57.71,1429.78 L55.30,1428.03 L58.28,1428.03ZM79.00,1425.20 L79.92,1428.03 L82.90,1428.03 L80.49,1429.78 L81.41,1432.62 L79.00,1430.87 L76.59,1432.62 L77.51,1429.78 L75.10,1428.03 L78.08,1428.03ZM98.80,1425.20 L99.72,1428.03 L102.70,1428.03 L100.29,1429.78 L101.21,1432.62 L98.80,1430.87 L96.39,1432.62 L97.31,1429.78 L94.90,1428.03 L97.88,1428.03ZM118.60,1425.20 L119.52,1428.03 L122.50,1428.03 L120.09,1429.78 L121.01,1432.62 L118.60,1430.87 L116.19,1432.62 L117.11,1429.78 L114.70,1428.03 L117.68,1428.03ZM138.40,1425.20 L139.32,1428.03 L142.30,1428.03 L139.89,1429.78 L140.81,1432.62 L138.40,1430.87 L135.99,1432.62 L136.91,1429.78 L134.50,1428.03 L137.48,1428.03ZM158.20,1425.20 L159.12,1428.03 L162.10,1428.03 L159.69,1429.78 L160.61,1432.62 L158.20,1430.87 L155.79,1432.62 L156.71,1429.78 L154.30,1428.03 L157.28,1428.03ZM69.10,1433.65 L70.02,1436.48 L73.00,1436.48 L70.59,1438.23 L71.51,1441.07 L69.10,1439.32 L66.69,1441.07 L67.61,1438.23 L65.20,1436.48 L68.18,1436.48ZM88.90,1433.65 L89.82,1436.48 L92.80,1436.48 L90.39,1438.23 L91.31,1441.07 L88.90,1439.32 L86.49,1441.07 L87.41,1438.23 L85.00,1436.48 L87.98,1436.48ZM108.70,1433.65 L109.62,1436.48 L112.60,1436.48 L110.19,1438.23 L111.11,1441.07 L108.70,1439.32 L106.29,1441.07 L107.21,1438.23 L104.80,1436.48 L107.78,1436.48ZM128.50,1433.65 L129.42,1436.48 L132.40,1436.48 L129.99,1438.23 L130.91,1441.07 L128.50,1439.32 L126.09,1441.07 L127.01,1438.23 L124.60,1436.48 L127.58,1436.48ZM148.30,1433.65 L149.22,1436.48 L152.20,1436.48 L149.79,1438.23 L150.71,1441.07 L148.30,1439.32 L145.89,1441.07 L146.81,1438.23 L144.40,1436.48 L147.38,1436.48ZM59.20,1442.10 L60.12,1444.93 L63.10,1444.93 L60.69,1446.68 L61.61,1449.52 L59.20,1447.77 L56.79,1449.52 L57.71,1446.68 L55.30,1444.93 L58.28,1444.93ZM79.00,1442.10 L79.92,1444.93 L82.90,1444.93 L80.49,1446.68 L81.41,1449.52 L79.00,1447.77 L76.59,1449.52 L77.51,1446.68 L75.10,1444.93 L78.08,1444.93ZM98.80,1442.10 L99.72,1444.93 L102.70,1444.93 L100.29,1446.68 L101.21,1449.52 L98.80,1447.77 L96.39,1449.52 L97.31,1446.68 L94.90,1444.93 L97.88,1444.93ZM118.60,1442.10 L119.52,1444.93 L122.50,1444.93 L120.09,1446.68 L121.01,1449.52 L118.60,1447.77 L116.19,1449.52 L117.11,1446.68 L114.70,1444.93 L117.68,1444.93ZM138.40,1442.10 L139.32,1444.93 L142.30,1444.93 L139.89,1446.68 L140.81,1449.52 L138.40,1447.77 L135.99,1449.52 L136.91,1446.68 L134.50,1444.93 L137.48,1444.93ZM158.20,1442.10 L159.12,1444.93 L162.10,1444.93 L159.69,1446.68 L160.61,1449.52 L158.20,1447.77 L155.79,1449.52 L156.71,1446.68 L154.30,1444.93 L157.28,1444.93ZM69.10,1450.55 L70.02,1453.38 L73.00,1453.38 L70.59,1455.13 L71.51,1457.97 L69.10,1456.22 L66.69,1457.97 L67.61,1455.13 L65.20,1453.38 L68.18,1453.38ZM88.90,1450.55 L89.82,1453.38 L92.80,1453.38 L90.39,1455.13 L91.31,1457.97 L88.90,1456.22 L86.49,1457.97 L87.41,1455.13 L85.00,1453.38 L87.98,1453.38ZM108.70,1450.55 L109.62,1453.38 L112.60,1453.38 L110.19,1455.13 L111.11,1457.97 L108.70,1456.22 L106.29,1457.97 L107.21,1455.13 L104.80,1453.38 L107.78,1453.38ZM128.50,1450.55 L129.42,1453.38 L132.40,1453.38 L129.99,1455.13 L130.91,1457.97 L128.50,1456.22 L126.09,1457.97 L127.01,1455.13 L124.60,1453.38 L127.58,1453.38ZM148.30,1450.55 L149.22,1453.38 L152.20,1453.38 L149.79,1455.13 L150.71,1457.97 L148.30,1456.22 L145.89,1457.97 L146.81,1455.13 L144.40,1453.38 L147.38,1453.38ZM59.20,1459.00 L60.12,1461.83 L63.10,1461.83 L60.69,1463.58 L61.61,1466.42 L59.20,1464.67 L56.79,1466.42 L57.71,1463.58 L55.30,1461.83 L58.28,1461.83ZM79.00,1459.00 L79.92,1461.83 L82.90,1461.83 L80.49,1463.58 L81.41,1466.42 L79.00,1464.67 L76.59,1466.42 L77.51,1463.58 L75.10,1461.83 L78.08,1461.83ZM98.80,1459.00 L99.72,1461.83 L102.70,1461.83 L100.29,1463.58 L101.21,1466.42 L98.80,1464.67 L96.39,1466.42 L97.31,1463.58 L94.90,1461.83 L97.88,1461.83ZM118.60,1459.00 L119.52,1461.83 L122.50,1461.83 L120.09,1463.58 L121.01,1466.42 L118.60,1464.67 L116.19,1466.42 L117.11,1463.58 L114.70,1461.83 L117.68,1461.83ZM138.40,1459.00 L139.32,1461.83 L142.30,1461.83 L139.89,1463.58 L140.81,1466.42 L138.40,1464.67 L135.99,1466.42 L136.91,1463.58 L134.50,1461.83 L137.48,1461.83ZM158.20,1459.00 L159.12,1461.83 L162.10,1461.83 L159.69,1463.58 L160.61,1466.42 L158.20,1464.67 L155.79,1466.42 L156.71,1463.58 L154.30,1461.83 L157.28,1461.83ZM69.10,1467.45 L70.02,1470.28 L73.00,1470.28 L70.59,1472.03 L71.51,1474.87 L69.10,1473.12 L66.69,1474.87 L67.61,1472.03 L65.20,1470.28 L68.18,1470.28ZM88.90,1467.45 L89.82,1470.28 L92.80,1470.28 L90.39,1472.03 L91.31,1474.87 L88.90,1473.12 L86.49,1474.87 L87.41,1472.03 L85.00,1470.28 L87.98,1470.28ZM108.70,1467.45 L109.62,1470.28 L112.60,1470.28 L110.19,1472.03 L111.11,1474.87 L108.70,1473.12 L106.29,1474.87 L107.21,1472.03 L104.80,1470.28 L107.78,1470.28ZM128.50,1467.45 L129.42,1470.28 L132.40,1470.28 L129.99,1472.03 L130.91,1474.87 L128.50,1473.12 L126.09,1474.87 L127.01,1472.03 L124.60,1470.28 L127.58,1470.28ZM148.30,1467.45 L149.22,1470.28 L152.20,1470.28 L149.79,1472.03 L150.71,1474.87 L148.30,1473.12 L145.89,1474.87 L146.81,1472.03 L144.40,1470.28 L147.38,1470.28ZM59.20,1475.90 L60.12,1478.73 L63.10,1478.73 L60.69,1480.48 L61.61,1483.32 L59.20,1481.57 L56.79,1483.32 L57.71,1480.48 L55.30,1478.73 L58.28,1478.73ZM79.00,1475.90 L79.92,1478.73 L82.90,1478.73 L80.49,1480.48 L81.41,1483.32 L79.00,1481.57 L76.59,1483.32 L77.51,1480.48 L75.10,1478.73 L78.08,1478.73ZM98.80,1475.90 L99.72,1478.73 L102.70,1478.73 L100.29,1480.48 L101.21,1483.32 L98.80,1481.57 L96.39,1483.32 L97.31,1480.48 L94.90,1478.73 L97.88,1478.73ZM118.60,1475.90 L119.52,1478.73 L122.50,1478.73 L120.09,1480.48 L121.01,1483.32 L118.60,1481.57 L116.19,1483.32 L117.11,1480.48 L114.70,1478.73 L117.68,1478.73ZM138.40,1475.90 L139.32,1478.73 L142.30,1478.73 L139.89,1480.48 L140.81,1483.32 L138.40,1481.57 L135.99,1483.32 L136.91,1480.48 L134.50,1478.73 L137.48,1478.73ZM158.20,1475.90 L159.12,1478.73 L162.10,1478.73 L159.69,1480.48 L160.61,1483.32 L158.20,1481.57 L155.79,1483.32 L156.71,1480.48 L154.30,1478.73 L157.28,1478.73Z" fill="#fff"/>
<text x="74.9" y="1634.1" font-size="23.4" fill="#0a0a0a" textLength="165.8" lengthAdjust="spacingAndGlyphs">Avg. KD (all US</text>
<text x="76.1" y="1668.4" font-size="23.4" fill="#0a0a0a" textLength="78.7" lengthAdjust="spacingAndGlyphs">M44s):</text>
<text x="141.8" y="1701.7" font-size="23.4" fill="#0a0a0a" font-weight="bold" textLength="102.8" lengthAdjust="spacingAndGlyphs">0.77 K/D</text>
<rect x="400.5" y="1387.8" width="321.3" height="332.4" fill="#fff"/>
<rect x="411.1" y="1400" width="300" height="156.1" fill="#ffce00"/>
<rect x="411.1" y="1400" width="300" height="104.07" fill="#dd0000"/>
<rect x="411.1" y="1400" width="300" height="52.03" fill="#000"/>
<text x="438.3" y="1630.0" font-size="23.4" fill="#0a0a0a" textLength="225.9" lengthAdjust="spacingAndGlyphs">Avg. KD (all German</text>
<text x="439.5" y="1664.2" font-size="23.4" fill="#0a0a0a" textLength="78.7" lengthAdjust="spacingAndGlyphs">M44s):</text>
<text x="504.8" y="1697.3" font-size="23.4" fill="#0a0a0a" font-weight="bold" textLength="103.0" lengthAdjust="spacingAndGlyphs">0.80 K/D</text>
<rect x="775.8" y="1393.3" width="321.6" height="332" fill="#fff"/>
<use href="#tank" transform="translate(770,1380) scale(0.15370)"/>
<text x="846.1" y="1635.0" font-size="23.4" fill="#0a0a0a" textLength="127.4" lengthAdjust="spacingAndGlyphs">Avg. KD (all</text>
<text x="847.2" y="1669.1" font-size="23.4" fill="#0a0a0a" textLength="78.4" lengthAdjust="spacingAndGlyphs">M44s):</text>
<text x="896.4" y="1702.2" font-size="23.4" fill="#0a0a0a" font-weight="bold" textLength="102.8" lengthAdjust="spacingAndGlyphs">0.85 K/D</text>
<rect x="1158.9" y="1390" width="321.3" height="331.7" fill="#fff"/>
<svg x="1171.1" y="1401.5" width="297.1" height="155.7" viewBox="0 0 60 30" preserveAspectRatio="none">
<clipPath id="ukc"><path d="M30,15 h30 v15 z v15 h-30 z h-30 v-15 z v-15 h30 z"/></clipPath>
<rect width="60" height="30" fill="#00247d"/>
<path d="M0,0 L60,30 M60,0 L0,30" stroke="#fff" stroke-width="6"/>
<path d="M0,0 L60,30 M60,0 L0,30" clip-path="url(#ukc)" stroke="#cf142b" stroke-width="4"/>
<path d="M30,0 v30 M0,15 h60" stroke="#fff" stroke-width="10"/>
<path d="M30,0 v30 M0,15 h60" stroke="#cf142b" stroke-width="6"/>
</svg>
<text x="1196.8" y="1632.0" font-size="23.4" fill="#0a0a0a" textLength="175.9" lengthAdjust="spacingAndGlyphs">Avg. KD (all Brit</text>
<text x="1197.7" y="1665.8" font-size="23.4" fill="#0a0a0a" textLength="78.5" lengthAdjust="spacingAndGlyphs">M44s):</text>
<text x="1263.3" y="1698.7" font-size="23.4" fill="#0a0a0a" font-weight="bold" textLength="102.8" lengthAdjust="spacingAndGlyphs">0.91 K/D</text>
<rect x="1520.1" y="1393.1" width="321.9" height="332.6" fill="#fff"/>
<rect x="1531.1" y="1405.8" width="100.0" height="155.3" fill="#002091"/>
<rect x="1731.6" y="1405.8" width="99.2" height="155.3" fill="#f42b3c"/>
<text x="1558.3" y="1635.3" font-size="23.4" fill="#0a0a0a" textLength="211.3" lengthAdjust="spacingAndGlyphs">Avg. KD (all French</text>
<text x="1559.5" y="1669.5" font-size="23.4" fill="#0a0a0a" textLength="78.7" lengthAdjust="spacingAndGlyphs">M44s):</text>
<text x="1628.7" y="1702.5" font-size="23.4" fill="#0a0a0a" font-weight="bold" textLength="102.5" lengthAdjust="spacingAndGlyphs">0.93 K/D</text>
<rect x="1873.6" y="1394.6" width="321.7" height="333" fill="#fff"/>
<rect x="1884.3" y="1407.2" width="99.1" height="155.7" fill="#009246"/>
<rect x="2085.5" y="1407.2" width="98.5" height="155.7" fill="#d52c3a"/>
<text x="1911.4" y="1637.3" font-size="23.4" fill="#0a0a0a" textLength="204.4" lengthAdjust="spacingAndGlyphs">Avg. KD (all Italian</text>
<text x="1912.6" y="1671.5" font-size="23.4" fill="#0a0a0a" textLength="78.7" lengthAdjust="spacingAndGlyphs">M44s):</text>
<text x="1979.5" y="1704.5" font-size="23.4" fill="#0a0a0a" font-weight="bold" textLength="101.4" lengthAdjust="spacingAndGlyphs">1.02 K/D</text>
<rect x="2219.5" y="1393.5" width="321.4" height="333.3" fill="#fff"/>
<circle cx="2380.1" cy="1483.5" r="47.9" fill="#bc3242"/>
<text x="2257.2" y="1636.1" font-size="23.4" fill="#0a0a0a" textLength="127.9" lengthAdjust="spacingAndGlyphs">Avg. KD (all</text>
<text x="2256.8" y="1669.9" font-size="23.4" fill="#0a0a0a" textLength="191.3" lengthAdjust="spacingAndGlyphs">Japanese M44s):</text>
<text x="2324.8" y="1703.0" font-size="23.4" fill="#0a0a0a" font-weight="bold" textLength="101.8" lengthAdjust="spacingAndGlyphs">1.03 K/D</text>
<text x="118.8" y="1802.5" font-size="58.5" fill="#ff0000" font-weight="bold" textLength="149.2" lengthAdjust="spacingAndGlyphs">-8.4%</text>
<text x="481.9" y="1798.1" font-size="58.5" fill="#ff0000" font-weight="bold" textLength="149.3" lengthAdjust="spacingAndGlyphs">-5.0%</text>
<text x="1250.5" y="1794.6" font-size="58.5" fill="#12b255" font-weight="bold" textLength="161.5" lengthAdjust="spacingAndGlyphs">+5.9%</text>
<text x="1613.9" y="1798.8" font-size="58.5" fill="#12b255" font-weight="bold" textLength="162.1" lengthAdjust="spacingAndGlyphs">+7.5%</text>
<text x="1932.6" y="1798.8" font-size="58.5" fill="#12b255" font-weight="bold" textLength="194.4" lengthAdjust="spacingAndGlyphs">+17.1%</text>
<text x="2287.6" y="1796.4" font-size="58.5" fill="#12b255" font-weight="bold" textLength="193.8" lengthAdjust="spacingAndGlyphs">+18.1%</text>
</g>
<g id="axis">
<rect x="335" y="1145" width="1925" height="10.4" fill="#fe0000"/>
<path d="M307.5 1150.2 L354.5 1127.2 L339 1150.2 L354.5 1173.4 Z" fill="#fe0000"/>
<path d="M2255.5 1126.6 L2303.5 1150.2 L2255.5 1174 Z" fill="#fe0000"/>
<rect x="457.25" y="1101.7" width="5.5" height="97.3" fill="#fe0000"/>
<rect x="665.55" y="1101.7" width="5.5" height="97.3" fill="#fe0000"/>
<rect x="873.65" y="1101.7" width="5.5" height="97.3" fill="#fe0000"/>
<rect x="1093.45" y="1101.7" width="5.5" height="97.3" fill="#fe0000"/>
<rect x="1301.15" y="1101.7" width="5.5" height="97.3" fill="#fe0000"/>
<rect x="1518.55" y="1101.7" width="5.5" height="97.3" fill="#fe0000"/>
<rect x="1729.85" y="1101.7" width="5.5" height="97.3" fill="#fe0000"/>
<rect x="1942.45" y="1101.7" width="5.5" height="97.3" fill="#fe0000"/>
<rect x="2153.35" y="1101.7" width="5.5" height="97.3" fill="#fe0000"/>
<text x="459.7" y="1242.0" font-size="21.8" fill="#ec1c24" text-anchor="middle" textLength="42.5" lengthAdjust="spacingAndGlyphs">0.70</text>
<text x="459.7" y="1271.2" font-size="21.8" fill="#ec1c24" text-anchor="middle" textLength="36.0" lengthAdjust="spacingAndGlyphs">K/D</text>
<text x="672.2" y="1242.0" font-size="21.8" fill="#ec1c24" text-anchor="middle" textLength="42.5" lengthAdjust="spacingAndGlyphs">0.75</text>
<text x="672.2" y="1271.2" font-size="21.8" fill="#ec1c24" text-anchor="middle" textLength="36.0" lengthAdjust="spacingAndGlyphs">K/D</text>
<text x="876.4" y="1242.0" font-size="21.8" fill="#ec1c24" text-anchor="middle" textLength="42.5" lengthAdjust="spacingAndGlyphs">0.80</text>
<text x="876.4" y="1271.2" font-size="21.8" fill="#ec1c24" text-anchor="middle" textLength="36.0" lengthAdjust="spacingAndGlyphs">K/D</text>
<text x="1095.6" y="1242.0" font-size="21.8" fill="#ec1c24" text-anchor="middle" textLength="42.5" lengthAdjust="spacingAndGlyphs">0.85</text>
<text x="1095.6" y="1271.2" font-size="21.8" fill="#ec1c24" text-anchor="middle" textLength="36.0" lengthAdjust="spacingAndGlyphs">K/D</text>
<text x="1300.6" y="1242.0" font-size="21.8" fill="#ec1c24" text-anchor="middle" textLength="42.5" lengthAdjust="spacingAndGlyphs">0.90</text>
<text x="1300.6" y="1271.2" font-size="21.8" fill="#ec1c24" text-anchor="middle" textLength="36.0" lengthAdjust="spacingAndGlyphs">K/D</text>
<text x="1519.7" y="1242.0" font-size="21.8" fill="#ec1c24" text-anchor="middle" textLength="42.5" lengthAdjust="spacingAndGlyphs">0.95</text>
<text x="1519.7" y="1271.2" font-size="21.8" fill="#ec1c24" text-anchor="middle" textLength="36.0" lengthAdjust="spacingAndGlyphs">K/D</text>
<text x="1732.3" y="1242.0" font-size="21.8" fill="#ec1c24" text-anchor="middle" textLength="42.5" lengthAdjust="spacingAndGlyphs">1.00</text>
<text x="1732.3" y="1271.2" font-size="21.8" fill="#ec1c24" text-anchor="middle" textLength="36.0" lengthAdjust="spacingAndGlyphs">K/D</text>
<text x="1942.6" y="1237.8" font-size="21.8" fill="#ec1c24" text-anchor="middle" textLength="42.5" lengthAdjust="spacingAndGlyphs">1.05</text>
<text x="1942.6" y="1266.6" font-size="21.8" fill="#ec1c24" text-anchor="middle" textLength="36.0" lengthAdjust="spacingAndGlyphs">K/D</text>
<text x="2150.6" y="1242.6" font-size="21.8" fill="#ec1c24" text-anchor="middle" textLength="42.5" lengthAdjust="spacingAndGlyphs">1.10</text>
<text x="2150.6" y="1271.2" font-size="21.8" fill="#ec1c24" text-anchor="middle" textLength="36.0" lengthAdjust="spacingAndGlyphs">K/D</text>
</g>
<g id="connectors">
<path d="M290.3 722 V793.9" fill="none" stroke="#c55a11" stroke-width="3.2" stroke-dasharray="12.4 9.4"/>
<path d="M282.4 793.9 H512.5" fill="none" stroke="#c55a11" stroke-width="3.2" stroke-dasharray="12.4 9.4"/>
<path d="M511.4 800 V930.9" fill="none" stroke="#c55a11" stroke-width="3.2" stroke-dasharray="12.4 9.4"/>
<path d="M514 930.9 H742" fill="none" stroke="#c55a11" stroke-width="3.2" stroke-dasharray="12.4 9.4"/>
<path d="M740.8 925 V1126" fill="none" stroke="#c55a11" stroke-width="3.2" stroke-dasharray="12.4 9.4"/>
<path d="M735.0 1125.0 H746.5 L740.7 1137.0 Z" fill="#c55a11"/>
<path d="M624.6 722 L622.6 778" fill="none" stroke="#f0000c" stroke-width="3.2" stroke-dasharray="12.4 9.4"/>
<path d="M622.6 787.1 H750.3" fill="none" stroke="#f0000c" stroke-width="3.2" stroke-dasharray="12.4 9.4"/>
<path d="M750.3 790 V1030.7" fill="none" stroke="#f0000c" stroke-width="3.2" stroke-dasharray="12.4 9.4"/>
<path d="M748.7 1030.7 H876.3" fill="none" stroke="#f0000c" stroke-width="3.2" stroke-dasharray="12.4 9.4"/>
<path d="M876.3 1033 V1082" fill="none" stroke="#f0000c" stroke-width="3.2" stroke-dasharray="12.4 9.4"/>
<path d="M871.1 1081.8 H881.6 L876.4 1093.8 Z" fill="#f0000c"/>
<path d="M1000.6 727 V797" fill="none" stroke="#7030a0" stroke-width="3.2" stroke-dasharray="12.4 9.4"/>
<path d="M993 797 H1168.7" fill="none" stroke="#7030a0" stroke-width="3.2" stroke-dasharray="12.4 9.4"/>
<path d="M1168.7 800 V933.7" fill="none" stroke="#7030a0" stroke-width="3.2" stroke-dasharray="12.4 9.4"/>
<path d="M1167 933.7 H1342.7" fill="none" stroke="#7030a0" stroke-width="3.2" stroke-dasharray="12.4 9.4"/>
<path d="M1342.7 930 V1129" fill="none" stroke="#7030a0" stroke-width="3.2" stroke-dasharray="12.4 9.4"/>
<path d="M1337.5 1128.4 H1349.0 L1343.3 1140.4 Z" fill="#7030a0"/>
<path d="M1362 731 V897.4" fill="none" stroke="#4472c4" stroke-width="3.2" stroke-dasharray="12.4 9.4"/>
<path d="M1362 897.4 H1439.1" fill="none" stroke="#4472c4" stroke-width="3.2" stroke-dasharray="12.4 9.4"/>
<path d="M1439.1 897.4 V1133" fill="none" stroke="#4472c4" stroke-width="3.2" stroke-dasharray="12.4 9.4"/>
<path d="M1433.5 1132.0 H1445.0 L1439.3 1144.0 Z" fill="#4472c4"/>
<path d="M1743.5 737 V782" fill="none" stroke="#00b050" stroke-width="3.2" stroke-dasharray="12.4 9.4"/>
<path d="M1747.4 784 V906.4" fill="none" stroke="#00b050" stroke-width="3.2" stroke-dasharray="12.4 9.4"/>
<path d="M1747.4 906.4 H1816" fill="none" stroke="#00b050" stroke-width="3.2" stroke-dasharray="12.4 9.4"/>
<path d="M1816 910 V1133" fill="none" stroke="#00b050" stroke-width="3.2" stroke-dasharray="12.4 9.4"/>
<path d="M1810.7 1133.0 H1823.2 L1816.9 1144.0 Z" fill="#00b050"/>
<path d="M2136.3 727 V893" fill="none" stroke="#bf9000" stroke-width="3.2" stroke-dasharray="12.4 9.4"/>
<path d="M2136.3 893 H1850.9" fill="none" stroke="#bf9000" stroke-width="3.2" stroke-dasharray="12.4 9.4"/>
<path d="M1850.9 893 V1129" fill="none" stroke="#bf9000" stroke-width="3.2" stroke-dasharray="12.4 9.4"/>
<path d="M1845.3 1127.8 H1856.8 L1851.1 1139.8 Z" fill="#bf9000"/>
<path d="M734.9 1172.3 H746.4 L740.6 1160.3 Z" fill="#c55a11"/>
<path d="M740.6 1172 V1295.8" fill="none" stroke="#c55a11" stroke-width="3.2" stroke-dasharray="12.4 9.4"/>
<path d="M740.6 1295.8 H463.4" fill="none" stroke="#c55a11" stroke-width="3.2" stroke-dasharray="12.4 9.4"/>
<path d="M463.4 1295.8 V1349.5" fill="none" stroke="#c55a11" stroke-width="3.2" stroke-dasharray="12.4 9.4"/>
<path d="M463.4 1349.5 H188" fill="none" stroke="#c55a11" stroke-width="3.2" stroke-dasharray="12.4 9.4"/>
<path d="M196.4 1390 V1344" fill="none" stroke="#c55a11" stroke-width="3.2" stroke-dasharray="12.4 9.4"/>
<path d="M871.1 1287.0 H881.6 L876.4 1276.0 Z" fill="#f0000c"/>
<path d="M876.4 1287 V1322.2" fill="none" stroke="#f0000c" stroke-width="3.2" stroke-dasharray="12.4 9.4"/>
<path d="M876.4 1322.2 H719.5" fill="none" stroke="#f0000c" stroke-width="3.2" stroke-dasharray="12.4 9.4"/>
<path d="M719.5 1322.2 V1346" fill="none" stroke="#f0000c" stroke-width="3.2" stroke-dasharray="12.4 9.4"/>
<path d="M719.5 1346 H556.4" fill="none" stroke="#f0000c" stroke-width="3.2" stroke-dasharray="12.4 9.4"/>
<path d="M556.4 1346 V1390" fill="none" stroke="#f0000c" stroke-width="3.2" stroke-dasharray="12.4 9.4"/>
<path d="M1087.8 1292.0 H1098.2 L1093.0 1281.0 Z" fill="#000"/>
<path d="M1093 1292 V1340.5" fill="none" stroke="#000" stroke-width="3.2" stroke-dasharray="12.4 9.4"/>
<path d="M1093 1340.5 H1004.4" fill="none" stroke="#000" stroke-width="3.2" stroke-dasharray="12.4 9.4"/>
<path d="M1004.4 1340.5 V1373" fill="none" stroke="#000" stroke-width="3.2" stroke-dasharray="12.4 9.4"/>
<path d="M1004.4 1373 H915.5" fill="none" stroke="#000" stroke-width="3.2" stroke-dasharray="12.4 9.4"/>
<path d="M915.5 1373 V1395" fill="none" stroke="#000" stroke-width="3.2" stroke-dasharray="12.4 9.4"/>
<path d="M1342.0 1168.7 H1353.5 L1347.8 1156.7 Z" fill="#7030a0"/>
<path d="M1347.8 1168 V1274.2" fill="none" stroke="#7030a0" stroke-width="3.2" stroke-dasharray="12.4 9.4"/>
<path d="M1349.5 1274.2 H1337" fill="none" stroke="#7030a0" stroke-width="3.2" stroke-dasharray="12.4 9.4"/>
<path d="M1327.3 1273 V1352" fill="none" stroke="#7030a0" stroke-width="3.2" stroke-dasharray="12.4 9.4"/>
<path d="M1319 1352.2 H1305.6" fill="none" stroke="#7030a0" stroke-width="3.2" stroke-dasharray="12.4 9.4"/>
<path d="M1307.2 1349 V1392" fill="none" stroke="#7030a0" stroke-width="3.2" stroke-dasharray="12.4 9.4"/>
<path d="M1434.8 1173.0 H1446.3 L1440.6 1161.0 Z" fill="#0070c0"/>
<path d="M1440.6 1172 V1314.2" fill="none" stroke="#0070c0" stroke-width="3.2" stroke-dasharray="12.4 9.4"/>
<path d="M1440.6 1314.2 H1539" fill="none" stroke="#0070c0" stroke-width="3.2" stroke-dasharray="12.4 9.4"/>
<path d="M1538.6 1314.2 V1352.8" fill="none" stroke="#0070c0" stroke-width="3.2" stroke-dasharray="12.4 9.4"/>
<path d="M1538.6 1352.8 H1634.7" fill="none" stroke="#0070c0" stroke-width="3.2" stroke-dasharray="12.4 9.4"/>
<path d="M1634.7 1344.5 V1391" fill="none" stroke="#0070c0" stroke-width="3.2" stroke-dasharray="12.4 9.4"/>
<path d="M1812.2 1171.3 H1824.8 L1818.5 1160.3 Z" fill="#00b050"/>
<path d="M1818.5 1171 V1284.6" fill="none" stroke="#00b050" stroke-width="3.2" stroke-dasharray="12.4 9.4"/>
<path d="M1824.6 1286 V1352.4" fill="none" stroke="#00b050" stroke-width="3.2" stroke-dasharray="12.4 9.4"/>
<path d="M1824.6 1352.4 H2065" fill="none" stroke="#00b050" stroke-width="3.2" stroke-dasharray="12.4 9.4"/>
<path d="M2065 1344.5 V1392" fill="none" stroke="#00b050" stroke-width="3.2" stroke-dasharray="12.4 9.4"/>
<path d="M1842.8 1176.8 H1854.2 L1848.5 1164.8 Z" fill="#bf9000"/>
<path d="M1848.5 1176 V1291.4" fill="none" stroke="#bf9000" stroke-width="3.2" stroke-dasharray="12.4 9.4"/>
<path d="M1848.5 1291.4 H2110.6" fill="none" stroke="#bf9000" stroke-width="3.2" stroke-dasharray="12.4 9.4"/>
<path d="M2110.6 1291.4 V1351.7" fill="none" stroke="#bf9000" stroke-width="3.2" stroke-dasharray="12.4 9.4"/>
<path d="M2110.6 1351.7 H2376" fill="none" stroke="#bf9000" stroke-width="3.2" stroke-dasharray="12.4 9.4"/>
<path d="M2376 1351.7 V1396" fill="none" stroke="#bf9000" stroke-width="3.2" stroke-dasharray="12.4 9.4"/>
</g>
</svg></body></html>
